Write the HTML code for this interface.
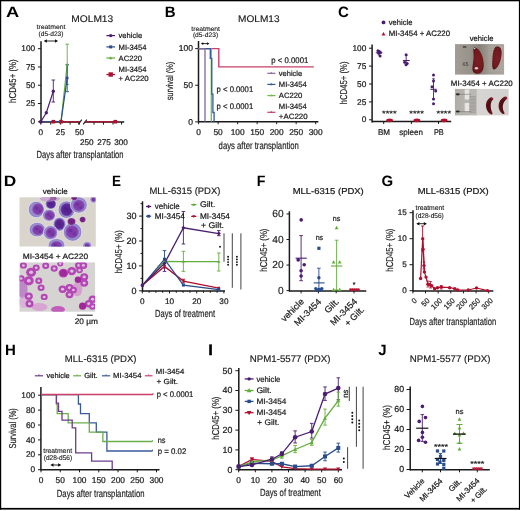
<!DOCTYPE html><html><head><meta charset="utf-8"><style>html,body{margin:0;padding:0;background:#fff;}svg{display:block;will-change:transform;text-rendering:geometricPrecision;}text{font-family:"Liberation Sans",sans-serif;}</style></head><body>
<svg width="520" height="511" viewBox="0 0 520 511">
<rect width="520" height="511" fill="#fff"/>
<text x="6.10" y="17.00" font-size="15" text-anchor="start" font-weight="bold" fill="#000" textLength="13.20" lengthAdjust="spacingAndGlyphs" >A</text>
<text x="71.30" y="22.30" font-size="9.6" text-anchor="start" fill="#1a1a1a" textLength="41.90" lengthAdjust="spacingAndGlyphs" stroke="#1a1a1a" stroke-width="0.16" >MOLM13</text>
<text x="36.50" y="28.80" font-size="6.6" text-anchor="start" fill="#1a1a1a" textLength="28.90" lengthAdjust="spacingAndGlyphs" stroke="#1a1a1a" stroke-width="0.12" >treatment</text>
<text x="38.50" y="35.60" font-size="6.6" text-anchor="start" fill="#1a1a1a" textLength="25.00" lengthAdjust="spacingAndGlyphs" stroke="#1a1a1a" stroke-width="0.12" >(d5-d23)</text>
<line x1="44.80" y1="41.00" x2="57.00" y2="41.00" stroke="#111" stroke-width="0.9" />
<polygon points="43.80,41.00 46.88,39.24 46.88,42.76" fill="#111"/>
<polygon points="58.00,41.00 54.92,39.24 54.92,42.76" fill="#111"/>
<line x1="41.00" y1="41.20" x2="41.00" y2="122.30" stroke="#1a1a1a" stroke-width="1.5" />
<line x1="37.90" y1="48.70" x2="41.00" y2="48.70" stroke="#1a1a1a" stroke-width="1.0" />
<text x="35.17" y="51.37" font-size="8.3" text-anchor="end" fill="#1a1a1a" stroke="#1a1a1a" stroke-width="0.22" >100</text>
<line x1="37.90" y1="66.97" x2="41.00" y2="66.97" stroke="#1a1a1a" stroke-width="1.0" />
<text x="35.17" y="69.65" font-size="8.3" text-anchor="end" fill="#1a1a1a" stroke="#1a1a1a" stroke-width="0.22" >75</text>
<line x1="37.90" y1="85.25" x2="41.00" y2="85.25" stroke="#1a1a1a" stroke-width="1.0" />
<text x="35.17" y="87.92" font-size="8.3" text-anchor="end" fill="#1a1a1a" stroke="#1a1a1a" stroke-width="0.22" >50</text>
<line x1="37.90" y1="103.53" x2="41.00" y2="103.53" stroke="#1a1a1a" stroke-width="1.0" />
<text x="35.17" y="106.20" font-size="8.3" text-anchor="end" fill="#1a1a1a" stroke="#1a1a1a" stroke-width="0.22" >25</text>
<line x1="37.90" y1="121.80" x2="41.00" y2="121.80" stroke="#1a1a1a" stroke-width="1.0" />
<text x="35.17" y="124.47" font-size="8.3" text-anchor="end" fill="#1a1a1a" stroke="#1a1a1a" stroke-width="0.22" >0</text>
<text x="16.30" y="81.10" font-size="10.0" text-anchor="middle" fill="#1a1a1a" textLength="43.60" lengthAdjust="spacingAndGlyphs" transform="rotate(-90 16.30 81.10)" stroke="#1a1a1a" stroke-width="0.16" >hCD45+ (%)</text>
<line x1="41.00" y1="122.00" x2="80.20" y2="122.00" stroke="#1a1a1a" stroke-width="1.5" />
<line x1="84.80" y1="122.00" x2="124.20" y2="122.00" stroke="#1a1a1a" stroke-width="1.5" />
<line x1="78.20" y1="124.40" x2="81.80" y2="119.70" stroke="#1a1a1a" stroke-width="1.1" />
<line x1="83.20" y1="124.40" x2="86.80" y2="119.70" stroke="#1a1a1a" stroke-width="1.1" />
<line x1="40.80" y1="122.10" x2="40.80" y2="124.60" stroke="#1a1a1a" stroke-width="1.0" />
<line x1="50.70" y1="122.10" x2="50.70" y2="124.60" stroke="#1a1a1a" stroke-width="1.0" />
<line x1="60.60" y1="122.10" x2="60.60" y2="124.60" stroke="#1a1a1a" stroke-width="1.0" />
<line x1="70.10" y1="122.10" x2="70.10" y2="124.60" stroke="#1a1a1a" stroke-width="1.0" />
<line x1="79.40" y1="122.10" x2="79.40" y2="124.60" stroke="#1a1a1a" stroke-width="1.0" />
<line x1="94.00" y1="122.10" x2="94.00" y2="124.60" stroke="#1a1a1a" stroke-width="1.0" />
<line x1="103.50" y1="122.10" x2="103.50" y2="124.60" stroke="#1a1a1a" stroke-width="1.0" />
<line x1="113.00" y1="122.10" x2="113.00" y2="124.60" stroke="#1a1a1a" stroke-width="1.0" />
<line x1="121.60" y1="122.10" x2="121.60" y2="124.60" stroke="#1a1a1a" stroke-width="1.0" />
<text x="40.80" y="135.00" font-size="8.2" text-anchor="middle" fill="#1a1a1a" stroke="#1a1a1a" stroke-width="0.22" >0</text>
<text x="60.40" y="135.00" font-size="8.2" text-anchor="middle" fill="#1a1a1a" stroke="#1a1a1a" stroke-width="0.22" >25</text>
<text x="79.60" y="135.00" font-size="8.2" text-anchor="middle" fill="#1a1a1a" stroke="#1a1a1a" stroke-width="0.22" >50</text>
<text x="86.80" y="145.00" font-size="8.2" text-anchor="middle" fill="#1a1a1a" stroke="#1a1a1a" stroke-width="0.22" >250</text>
<text x="104.00" y="145.00" font-size="8.2" text-anchor="middle" fill="#1a1a1a" stroke="#1a1a1a" stroke-width="0.22" >275</text>
<text x="121.00" y="145.00" font-size="8.2" text-anchor="middle" fill="#1a1a1a" stroke="#1a1a1a" stroke-width="0.22" >300</text>
<text x="80.10" y="158.00" font-size="10.3" text-anchor="middle" fill="#1a1a1a" textLength="87.00" lengthAdjust="spacingAndGlyphs" stroke="#1a1a1a" stroke-width="0.16" >Days after transplantation</text>
<line x1="41.00" y1="121.80" x2="80.00" y2="121.80" stroke="#b0102e" stroke-width="1.3" />
<line x1="85.00" y1="121.80" x2="116.00" y2="121.80" stroke="#b0102e" stroke-width="1.3" />
<polyline points="41.00,121.70 61.00,121.70 67.20,64.50" fill="none" stroke="#62ad3a" stroke-width="1.2" stroke-linejoin="miter" />
<line x1="67.20" y1="44.20" x2="67.20" y2="84.50" stroke="#62ad3a" stroke-width="0.9" />
<line x1="65.40" y1="44.20" x2="69.00" y2="44.20" stroke="#62ad3a" stroke-width="0.9" />
<line x1="65.40" y1="84.50" x2="69.00" y2="84.50" stroke="#62ad3a" stroke-width="0.9" />
<polyline points="41.00,121.70 61.00,121.70 67.20,78.00" fill="none" stroke="#284c8c" stroke-width="1.2" stroke-linejoin="miter" />
<line x1="67.20" y1="64.70" x2="67.20" y2="91.70" stroke="#284c8c" stroke-width="0.9" />
<line x1="65.40" y1="64.70" x2="69.00" y2="64.70" stroke="#284c8c" stroke-width="0.9" />
<line x1="65.40" y1="91.70" x2="69.00" y2="91.70" stroke="#284c8c" stroke-width="0.9" />
<polygon points="65.70,65.70 68.70,65.70 67.20,63.00" fill="#62ad3a"/>
<rect x="65.90" y="76.70" width="2.60" height="2.60" fill="#284c8c"/>
<polyline points="40.80,121.70 46.30,112.80 53.30,91.20" fill="none" stroke="#4b1c70" stroke-width="1.2" stroke-linejoin="miter" />
<line x1="53.30" y1="80.00" x2="53.30" y2="102.00" stroke="#4b1c70" stroke-width="0.9" />
<line x1="51.50" y1="80.00" x2="55.10" y2="80.00" stroke="#4b1c70" stroke-width="0.9" />
<line x1="51.50" y1="102.00" x2="55.10" y2="102.00" stroke="#4b1c70" stroke-width="0.9" />
<circle cx="40.80" cy="121.70" r="1.7" fill="#4b1c70" />
<circle cx="46.30" cy="112.80" r="1.7" fill="#4b1c70" />
<circle cx="53.30" cy="91.20" r="1.7" fill="#4b1c70" />
<rect x="51.50" y="119.90" width="3.60" height="3.60" fill="#b0102e"/>
<rect x="59.20" y="119.90" width="3.60" height="3.60" fill="#b0102e"/>
<rect x="113.50" y="119.90" width="3.60" height="3.60" fill="#b0102e"/>
<circle cx="40.80" cy="121.70" r="1.8" fill="#4b1c70" />
<line x1="106.40" y1="35.60" x2="115.00" y2="35.60" stroke="#4b1c70" stroke-width="1.2" />
<circle cx="110.70" cy="35.60" r="1.7" fill="#4b1c70" />
<text x="118.60" y="38.30" font-size="7.6" text-anchor="start" fill="#1a1a1a" textLength="23.50" lengthAdjust="spacingAndGlyphs" stroke="#1a1a1a" stroke-width="0.22" >vehicle</text>
<line x1="106.40" y1="46.90" x2="115.00" y2="46.90" stroke="#284c8c" stroke-width="1.2" />
<rect x="109.20" y="45.40" width="3.00" height="3.00" fill="#284c8c"/>
<text x="118.60" y="49.60" font-size="7.6" text-anchor="start" fill="#1a1a1a" textLength="28.00" lengthAdjust="spacingAndGlyphs" stroke="#1a1a1a" stroke-width="0.22" >MI-3454</text>
<line x1="106.40" y1="58.00" x2="115.00" y2="58.00" stroke="#62ad3a" stroke-width="1.2" />
<polygon points="109.00,59.36 112.40,59.36 110.70,56.30" fill="#62ad3a"/>
<text x="118.60" y="60.70" font-size="7.6" text-anchor="start" fill="#1a1a1a" textLength="23.50" lengthAdjust="spacingAndGlyphs" stroke="#1a1a1a" stroke-width="0.22" >AC220</text>
<line x1="106.40" y1="74.50" x2="115.00" y2="74.50" stroke="#b0102e" stroke-width="1.2" />
<rect x="108.50" y="72.30" width="4.40" height="4.40" fill="#b0102e"/>
<text x="118.60" y="72.00" font-size="7.6" text-anchor="start" fill="#1a1a1a" textLength="28.00" lengthAdjust="spacingAndGlyphs" stroke="#1a1a1a" stroke-width="0.22" >MI-3454</text>
<text x="118.60" y="81.40" font-size="7.6" text-anchor="start" fill="#1a1a1a" textLength="30.00" lengthAdjust="spacingAndGlyphs" stroke="#1a1a1a" stroke-width="0.22" >+ AC220</text>
<rect x="0" y="0" width="520" height="1.3" fill="#000"/>
<rect x="0" y="0" width="1.2" height="509.6" fill="#000"/>
<rect x="518.9" y="0" width="1.1" height="509.6" fill="#000"/>
<rect x="0" y="507.9" width="520" height="1.7" fill="#000"/>
<text x="164.70" y="16.90" font-size="15" text-anchor="start" font-weight="bold" fill="#000" >B</text>
<text x="238.10" y="22.30" font-size="9.6" text-anchor="start" fill="#1a1a1a" textLength="41.50" lengthAdjust="spacingAndGlyphs" stroke="#1a1a1a" stroke-width="0.16" >MOLM13</text>
<text x="191.30" y="30.50" font-size="6.6" text-anchor="start" fill="#1a1a1a" textLength="28.70" lengthAdjust="spacingAndGlyphs" stroke="#1a1a1a" stroke-width="0.12" >treatment</text>
<text x="192.90" y="37.00" font-size="6.6" text-anchor="start" fill="#1a1a1a" textLength="25.30" lengthAdjust="spacingAndGlyphs" stroke="#1a1a1a" stroke-width="0.12" >(d5-d23)</text>
<line x1="201.90" y1="43.60" x2="208.40" y2="43.60" stroke="#111" stroke-width="0.9" />
<polygon points="200.90,43.60 203.28,42.24 203.28,44.96" fill="#111"/>
<polygon points="209.40,43.60 207.02,42.24 207.02,44.96" fill="#111"/>
<line x1="198.50" y1="41.00" x2="198.50" y2="122.30" stroke="#1a1a1a" stroke-width="1.5" />
<line x1="195.20" y1="48.60" x2="198.50" y2="48.60" stroke="#1a1a1a" stroke-width="1.0" />
<text x="192.88" y="51.34" font-size="8.5" text-anchor="end" fill="#1a1a1a" stroke="#1a1a1a" stroke-width="0.22" >100</text>
<line x1="195.20" y1="85.25" x2="198.50" y2="85.25" stroke="#1a1a1a" stroke-width="1.0" />
<text x="192.88" y="87.99" font-size="8.5" text-anchor="end" fill="#1a1a1a" stroke="#1a1a1a" stroke-width="0.22" >50</text>
<line x1="195.20" y1="121.90" x2="198.50" y2="121.90" stroke="#1a1a1a" stroke-width="1.0" />
<text x="192.88" y="124.64" font-size="8.5" text-anchor="end" fill="#1a1a1a" stroke="#1a1a1a" stroke-width="0.22" >0</text>
<text x="173.40" y="81.00" font-size="9.7" text-anchor="middle" fill="#1a1a1a" textLength="38.70" lengthAdjust="spacingAndGlyphs" transform="rotate(-90 173.40 81.00)" stroke="#1a1a1a" stroke-width="0.16" >survival (%)</text>
<line x1="198.40" y1="121.70" x2="318.40" y2="121.70" stroke="#1a1a1a" stroke-width="1.5" />
<line x1="198.60" y1="121.70" x2="198.60" y2="124.20" stroke="#1a1a1a" stroke-width="1.0" />
<text x="198.60" y="135.20" font-size="8.4" text-anchor="middle" fill="#1a1a1a" stroke="#1a1a1a" stroke-width="0.22" >0</text>
<line x1="218.12" y1="121.70" x2="218.12" y2="124.20" stroke="#1a1a1a" stroke-width="1.0" />
<text x="218.12" y="135.20" font-size="8.4" text-anchor="middle" fill="#1a1a1a" stroke="#1a1a1a" stroke-width="0.22" >50</text>
<line x1="237.63" y1="121.70" x2="237.63" y2="124.20" stroke="#1a1a1a" stroke-width="1.0" />
<text x="237.63" y="135.20" font-size="8.4" text-anchor="middle" fill="#1a1a1a" stroke="#1a1a1a" stroke-width="0.22" >100</text>
<line x1="257.14" y1="121.70" x2="257.14" y2="124.20" stroke="#1a1a1a" stroke-width="1.0" />
<text x="257.14" y="135.20" font-size="8.4" text-anchor="middle" fill="#1a1a1a" stroke="#1a1a1a" stroke-width="0.22" >150</text>
<line x1="276.66" y1="121.70" x2="276.66" y2="124.20" stroke="#1a1a1a" stroke-width="1.0" />
<text x="276.66" y="135.20" font-size="8.4" text-anchor="middle" fill="#1a1a1a" stroke="#1a1a1a" stroke-width="0.22" >200</text>
<line x1="296.17" y1="121.70" x2="296.17" y2="124.20" stroke="#1a1a1a" stroke-width="1.0" />
<text x="296.17" y="135.20" font-size="8.4" text-anchor="middle" fill="#1a1a1a" stroke="#1a1a1a" stroke-width="0.22" >250</text>
<line x1="315.69" y1="121.70" x2="315.69" y2="124.20" stroke="#1a1a1a" stroke-width="1.0" />
<text x="315.69" y="135.20" font-size="8.4" text-anchor="middle" fill="#1a1a1a" stroke="#1a1a1a" stroke-width="0.22" >300</text>
<text x="218.60" y="148.60" font-size="10.3" text-anchor="start" fill="#1a1a1a" textLength="80.30" lengthAdjust="spacingAndGlyphs" stroke="#1a1a1a" stroke-width="0.16" >days after transplantion</text>
<polyline points="198.40,48.60 218.80,48.60 218.80,66.90 313.20,66.90" fill="none" stroke="#cc3f68" stroke-width="1.4" stroke-linejoin="miter" />
<polyline points="198.40,48.60 211.30,48.60 211.30,121.70" fill="none" stroke="#6cc04a" stroke-width="1.3" stroke-linejoin="miter" />
<polyline points="198.40,48.60 210.30,48.60 210.30,58.30 211.80,58.30 211.80,94.20 212.90,94.20 212.90,112.50 214.10,112.50 214.10,121.70" fill="none" stroke="#2f5aa0" stroke-width="1.3" stroke-linejoin="miter" />
<polyline points="198.40,48.60 205.00,48.60 205.00,121.70" fill="none" stroke="#87679c" stroke-width="1.3" stroke-linejoin="miter" />
<line x1="313.20" y1="65.60" x2="313.20" y2="68.20" stroke="#6cc04a" stroke-width="0.8" />
<text x="216.60" y="91.90" font-size="8.2" text-anchor="start" fill="#1a1a1a" textLength="36.60" lengthAdjust="spacingAndGlyphs" stroke="#1a1a1a" stroke-width="0.22" >p &lt; 0.0001</text>
<text x="216.60" y="109.10" font-size="8.2" text-anchor="start" fill="#1a1a1a" textLength="36.60" lengthAdjust="spacingAndGlyphs" stroke="#1a1a1a" stroke-width="0.22" >p &lt; 0.0001</text>
<text x="271.30" y="62.50" font-size="8.2" text-anchor="start" fill="#1a1a1a" textLength="37.00" lengthAdjust="spacingAndGlyphs" stroke="#1a1a1a" stroke-width="0.22" >p &lt; 0.0001</text>
<line x1="267.30" y1="73.30" x2="275.40" y2="73.30" stroke="#87679c" stroke-width="1.2" />
<polygon points="270.00,74.04 272.60,74.04 271.30,71.70" fill="#87679c"/>
<text x="278.80" y="76.00" font-size="7.6" text-anchor="start" fill="#1a1a1a" textLength="23.40" lengthAdjust="spacingAndGlyphs" stroke="#1a1a1a" stroke-width="0.22" >vehicle</text>
<line x1="267.30" y1="84.40" x2="275.40" y2="84.40" stroke="#2f5aa0" stroke-width="1.2" />
<polygon points="270.00,85.14 272.60,85.14 271.30,82.80" fill="#2f5aa0"/>
<text x="278.80" y="87.10" font-size="7.6" text-anchor="start" fill="#1a1a1a" textLength="28.00" lengthAdjust="spacingAndGlyphs" stroke="#1a1a1a" stroke-width="0.22" >MI-3454</text>
<line x1="267.30" y1="95.60" x2="275.40" y2="95.60" stroke="#6cc04a" stroke-width="1.2" />
<polygon points="270.00,96.34 272.60,96.34 271.30,94.00" fill="#6cc04a"/>
<text x="278.80" y="98.30" font-size="7.6" text-anchor="start" fill="#1a1a1a" textLength="23.50" lengthAdjust="spacingAndGlyphs" stroke="#1a1a1a" stroke-width="0.22" >AC220</text>
<line x1="267.30" y1="112.30" x2="275.40" y2="112.30" stroke="#cc3f68" stroke-width="1.2" />
<polygon points="270.00,113.04 272.60,113.04 271.30,110.70" fill="#cc3f68"/>
<text x="278.80" y="109.40" font-size="7.6" text-anchor="start" fill="#1a1a1a" textLength="28.00" lengthAdjust="spacingAndGlyphs" stroke="#1a1a1a" stroke-width="0.22" >MI-3454</text>
<text x="278.80" y="118.50" font-size="7.6" text-anchor="start" fill="#1a1a1a" textLength="28.80" lengthAdjust="spacingAndGlyphs" stroke="#1a1a1a" stroke-width="0.22" >+AC220</text>
<text x="338.10" y="17.10" font-size="15" text-anchor="start" font-weight="bold" fill="#000" >C</text>
<circle cx="383.50" cy="22.40" r="1.9" fill="#4b1c70" />
<text x="388.80" y="24.80" font-size="7.8" text-anchor="start" fill="#1a1a1a" textLength="23.60" lengthAdjust="spacingAndGlyphs" stroke="#1a1a1a" stroke-width="0.22" >vehicle</text>
<polygon points="381.50,35.50 385.50,35.50 383.50,31.90" fill="#b0102e"/>
<text x="388.80" y="36.30" font-size="7.8" text-anchor="start" fill="#1a1a1a" textLength="61.20" lengthAdjust="spacingAndGlyphs" stroke="#1a1a1a" stroke-width="0.22" >MI-3454 + AC220</text>
<line x1="372.10" y1="44.60" x2="372.10" y2="122.40" stroke="#1a1a1a" stroke-width="1.5" />
<line x1="369.00" y1="48.20" x2="372.10" y2="48.20" stroke="#1a1a1a" stroke-width="1.0" />
<text x="366.27" y="50.87" font-size="8.3" text-anchor="end" fill="#1a1a1a" stroke="#1a1a1a" stroke-width="0.22" >100</text>
<line x1="369.00" y1="66.10" x2="372.10" y2="66.10" stroke="#1a1a1a" stroke-width="1.0" />
<text x="366.27" y="68.77" font-size="8.3" text-anchor="end" fill="#1a1a1a" stroke="#1a1a1a" stroke-width="0.22" >75</text>
<line x1="369.00" y1="84.00" x2="372.10" y2="84.00" stroke="#1a1a1a" stroke-width="1.0" />
<text x="366.27" y="86.67" font-size="8.3" text-anchor="end" fill="#1a1a1a" stroke="#1a1a1a" stroke-width="0.22" >50</text>
<line x1="369.00" y1="101.90" x2="372.10" y2="101.90" stroke="#1a1a1a" stroke-width="1.0" />
<text x="366.27" y="104.57" font-size="8.3" text-anchor="end" fill="#1a1a1a" stroke="#1a1a1a" stroke-width="0.22" >25</text>
<line x1="369.00" y1="119.80" x2="372.10" y2="119.80" stroke="#1a1a1a" stroke-width="1.0" />
<text x="366.27" y="122.47" font-size="8.3" text-anchor="end" fill="#1a1a1a" stroke="#1a1a1a" stroke-width="0.22" >0</text>
<text x="347.00" y="82.90" font-size="10.0" text-anchor="middle" fill="#1a1a1a" textLength="42.80" lengthAdjust="spacingAndGlyphs" transform="rotate(-90 347.00 82.90)" stroke="#1a1a1a" stroke-width="0.16" >hCD45+ (%)</text>
<line x1="371.80" y1="121.60" x2="451.20" y2="121.60" stroke="#1a1a1a" stroke-width="1.5" />
<line x1="383.70" y1="121.60" x2="383.70" y2="124.00" stroke="#1a1a1a" stroke-width="1.0" />
<line x1="411.40" y1="121.60" x2="411.40" y2="124.00" stroke="#1a1a1a" stroke-width="1.0" />
<line x1="438.50" y1="121.60" x2="438.50" y2="124.00" stroke="#1a1a1a" stroke-width="1.0" />
<text x="384.00" y="134.80" font-size="8.2" text-anchor="middle" fill="#1a1a1a" textLength="12.10" lengthAdjust="spacingAndGlyphs" stroke="#1a1a1a" stroke-width="0.22" >BM</text>
<text x="411.20" y="134.80" font-size="8.2" text-anchor="middle" fill="#1a1a1a" textLength="23.70" lengthAdjust="spacingAndGlyphs" stroke="#1a1a1a" stroke-width="0.22" >spleen</text>
<text x="438.80" y="134.80" font-size="8.2" text-anchor="middle" fill="#1a1a1a" textLength="9.80" lengthAdjust="spacingAndGlyphs" stroke="#1a1a1a" stroke-width="0.22" >PB</text>
<ellipse cx="389.60" cy="120.3" rx="3.4" ry="1.9" fill="#b0102e"/>
<text x="389.30" y="116.10" font-size="7.5" text-anchor="middle" fill="#1a1a1a" textLength="14.60" lengthAdjust="spacingAndGlyphs" stroke="#1a1a1a" stroke-width="0.22" >****</text>
<ellipse cx="416.90" cy="120.3" rx="3.4" ry="1.9" fill="#b0102e"/>
<text x="416.60" y="116.10" font-size="7.5" text-anchor="middle" fill="#1a1a1a" textLength="14.60" lengthAdjust="spacingAndGlyphs" stroke="#1a1a1a" stroke-width="0.22" >****</text>
<ellipse cx="444.10" cy="120.3" rx="3.4" ry="1.9" fill="#b0102e"/>
<text x="443.80" y="116.10" font-size="7.5" text-anchor="middle" fill="#1a1a1a" textLength="14.60" lengthAdjust="spacingAndGlyphs" stroke="#1a1a1a" stroke-width="0.22" >****</text>
<circle cx="377.90" cy="50.70" r="1.5" fill="#4b1c70" />
<circle cx="379.40" cy="51.80" r="1.5" fill="#4b1c70" />
<circle cx="380.10" cy="56.00" r="1.5" fill="#4b1c70" />
<circle cx="378.50" cy="53.00" r="1.5" fill="#4b1c70" />
<circle cx="380.50" cy="52.50" r="1.5" fill="#4b1c70" />
<line x1="375.80" y1="52.80" x2="382.30" y2="52.80" stroke="#4b1c70" stroke-width="1.0" />
<line x1="379.00" y1="50.50" x2="379.00" y2="55.00" stroke="#4b1c70" stroke-width="0.9" />
<line x1="377.80" y1="50.50" x2="380.20" y2="50.50" stroke="#4b1c70" stroke-width="0.9" />
<line x1="377.80" y1="55.00" x2="380.20" y2="55.00" stroke="#4b1c70" stroke-width="0.9" />
<circle cx="406.10" cy="54.70" r="1.5" fill="#4b1c70" />
<circle cx="404.60" cy="62.20" r="1.5" fill="#4b1c70" />
<circle cx="407.20" cy="63.60" r="1.5" fill="#4b1c70" />
<circle cx="406.00" cy="64.80" r="1.5" fill="#4b1c70" />
<line x1="402.90" y1="60.50" x2="409.70" y2="60.50" stroke="#4b1c70" stroke-width="1.0" />
<line x1="406.20" y1="55.50" x2="406.20" y2="64.50" stroke="#4b1c70" stroke-width="0.9" />
<line x1="405.00" y1="55.50" x2="407.40" y2="55.50" stroke="#4b1c70" stroke-width="0.9" />
<line x1="405.00" y1="64.50" x2="407.40" y2="64.50" stroke="#4b1c70" stroke-width="0.9" />
<circle cx="433.50" cy="74.90" r="1.5" fill="#4b1c70" />
<circle cx="433.50" cy="81.00" r="1.5" fill="#4b1c70" />
<circle cx="432.00" cy="86.70" r="1.5" fill="#4b1c70" />
<circle cx="435.70" cy="91.10" r="1.5" fill="#4b1c70" />
<circle cx="433.50" cy="99.00" r="1.5" fill="#4b1c70" />
<circle cx="433.50" cy="103.80" r="1.5" fill="#4b1c70" />
<line x1="430.30" y1="89.30" x2="436.70" y2="89.30" stroke="#4b1c70" stroke-width="1.0" />
<line x1="433.50" y1="78.80" x2="433.50" y2="99.50" stroke="#4b1c70" stroke-width="0.9" />
<line x1="432.20" y1="78.80" x2="434.80" y2="78.80" stroke="#4b1c70" stroke-width="0.9" />
<line x1="432.20" y1="99.50" x2="434.80" y2="99.50" stroke="#4b1c70" stroke-width="0.9" />
<text x="481.70" y="41.00" font-size="7.8" text-anchor="middle" fill="#1a1a1a" textLength="23.80" lengthAdjust="spacingAndGlyphs" stroke="#1a1a1a" stroke-width="0.22" >vehicle</text>
<text x="481.80" y="85.90" font-size="7.8" text-anchor="middle" fill="#1a1a1a" textLength="62.00" lengthAdjust="spacingAndGlyphs" stroke="#1a1a1a" stroke-width="0.22" >MI-3454 + AC220</text>
<defs><linearGradient id="ph1" x1="0" y1="0" x2="1" y2="0"><stop offset="0" stop-color="#a39e95"/><stop offset="0.3" stop-color="#98938a"/><stop offset="0.5" stop-color="#878179"/><stop offset="0.72" stop-color="#a29d95"/><stop offset="1" stop-color="#aba69d"/></linearGradient><linearGradient id="ph2" x1="0" y1="0" x2="1" y2="0"><stop offset="0" stop-color="#b0ada8"/><stop offset="0.39" stop-color="#bcbab5"/><stop offset="0.4" stop-color="#d6d5d2"/><stop offset="1" stop-color="#d2d1ce"/></linearGradient><radialGradient id="spl" cx="0.5" cy="0.5" r="0.6"><stop offset="0" stop-color="#7e1e24"/><stop offset="0.7" stop-color="#6e1a1e"/><stop offset="1" stop-color="#541216"/></radialGradient><radialGradient id="spl2" cx="0.5" cy="0.5" r="0.6"><stop offset="0" stop-color="#4a0c12"/><stop offset="0.6" stop-color="#5a0f16"/><stop offset="1" stop-color="#8a2028"/></radialGradient></defs>
<rect x="455.0" y="44.1" width="49.1" height="30.5" fill="url(#ph1)"/>
<line x1="487.50" y1="47.00" x2="503.50" y2="47.00" stroke="#b4afa6" stroke-width="0.5" />
<line x1="487.50" y1="49.60" x2="503.50" y2="49.60" stroke="#b4afa6" stroke-width="0.5" />
<line x1="487.50" y1="52.20" x2="503.50" y2="52.20" stroke="#b4afa6" stroke-width="0.5" />
<line x1="487.50" y1="54.80" x2="503.50" y2="54.80" stroke="#b4afa6" stroke-width="0.5" />
<line x1="487.50" y1="57.40" x2="503.50" y2="57.40" stroke="#b4afa6" stroke-width="0.5" />
<line x1="487.50" y1="60.00" x2="503.50" y2="60.00" stroke="#b4afa6" stroke-width="0.5" />
<line x1="487.50" y1="62.60" x2="503.50" y2="62.60" stroke="#b4afa6" stroke-width="0.5" />
<line x1="487.50" y1="65.20" x2="503.50" y2="65.20" stroke="#b4afa6" stroke-width="0.5" />
<line x1="487.50" y1="67.80" x2="503.50" y2="67.80" stroke="#b4afa6" stroke-width="0.5" />
<line x1="487.50" y1="70.40" x2="503.50" y2="70.40" stroke="#b4afa6" stroke-width="0.5" />
<text x="462.4" y="66.2" font-size="5.5" fill="#333" stroke="none">65</text>
<rect x="462.8" y="46.3" width="3.6" height="1.3" fill="#333"/>
<path d="M474.2,47.6 C476.5,47.2 479.5,49.5 481.5,54 C483.5,58.5 484.2,64 483.5,68 C482.8,71.8 480,74 477,73.8 C474,73.6 472.2,71.5 472.4,68 C472.6,64 473.8,60 473.6,55 C473.5,51.5 472.8,48.5 474.2,47.6 Z" fill="url(#spl)"/>
<path d="M497.5,46.6 C500,46.6 501.8,49 501.6,53.5 C501.4,58 500,63.5 497.5,67 C496,69 494.5,69.8 493.4,69.2 C492.2,68.5 492.1,65 492.3,61 C492.6,56 492.8,51 494.5,48.2 C495.3,47 496.4,46.6 497.5,46.6 Z" fill="url(#spl)"/>
<ellipse cx="476.4" cy="68.3" rx="1.7" ry="1.2" fill="#e6c8cc"/>
<ellipse cx="474.6" cy="48.6" rx="0.9" ry="0.7" fill="#e8e0d8"/>
<rect x="454.9" y="88.9" width="53.8" height="26.5" fill="url(#ph2)"/>
<rect x="464.7" y="89.5" width="4.6" height="10" fill="#e6e5e3"/>
<rect x="464.7" y="103" width="4.6" height="8.5" fill="#e6e5e3"/>
<line x1="469.30" y1="96.50" x2="476.00" y2="96.50" stroke="#8e8c88" stroke-width="0.55" />
<line x1="469.30" y1="97.95" x2="476.00" y2="97.95" stroke="#8e8c88" stroke-width="0.55" />
<line x1="469.30" y1="99.40" x2="476.00" y2="99.40" stroke="#8e8c88" stroke-width="0.55" />
<line x1="469.30" y1="100.85" x2="476.00" y2="100.85" stroke="#8e8c88" stroke-width="0.55" />
<line x1="469.30" y1="102.30" x2="476.00" y2="102.30" stroke="#8e8c88" stroke-width="0.55" />
<line x1="469.30" y1="103.75" x2="476.00" y2="103.75" stroke="#8e8c88" stroke-width="0.55" />
<line x1="469.30" y1="105.20" x2="476.00" y2="105.20" stroke="#8e8c88" stroke-width="0.55" />
<line x1="469.30" y1="106.65" x2="476.00" y2="106.65" stroke="#8e8c88" stroke-width="0.55" />
<line x1="469.30" y1="108.10" x2="476.00" y2="108.10" stroke="#8e8c88" stroke-width="0.55" />
<line x1="469.30" y1="109.55" x2="476.00" y2="109.55" stroke="#8e8c88" stroke-width="0.55" />
<line x1="469.30" y1="111.00" x2="476.00" y2="111.00" stroke="#8e8c88" stroke-width="0.55" />
<line x1="469.30" y1="112.45" x2="476.00" y2="112.45" stroke="#8e8c88" stroke-width="0.55" />
<line x1="476.20" y1="89.00" x2="476.20" y2="115.40" stroke="#a8a6a2" stroke-width="0.6" />
<ellipse cx="457.8" cy="94.3" rx="2.1" ry="1.1" fill="#2a2a2a"/>
<ellipse cx="457.8" cy="111.6" rx="2.1" ry="1.0" fill="#2a2a2a"/>
<line x1="459.50" y1="94.30" x2="471.00" y2="94.30" stroke="#666" stroke-width="0.5" />
<line x1="459.50" y1="111.60" x2="471.00" y2="111.60" stroke="#666" stroke-width="0.5" />
<path d="M490.4,97.4 C488,98.6 486,101.5 485.9,105 C485.8,109 488,112.6 490.6,114.3 C491.8,115 492.9,114.2 492.5,113 C491.3,110.5 490.6,108 490.7,105.2 C490.8,102.5 491.8,100.6 493.2,99.4 C494,98.4 492.2,96.6 490.4,97.4 Z" fill="url(#spl2)"/>
<path d="M505.2,96.6 C501.8,97.8 499,101 498.6,105.2 C498.3,109 500.2,112.5 502.8,113.9 C504,114.5 505,113.6 504.3,112.4 C503,110.3 502.5,107.8 502.9,105.2 C503.4,102.2 505.2,100.2 507,99 C508,98 506.6,96.1 505.2,96.6 Z" fill="url(#spl2)"/>
<text x="3.70" y="186.30" font-size="15" text-anchor="start" font-weight="bold" fill="#000" textLength="12.50" lengthAdjust="spacingAndGlyphs" >D</text>
<text x="55.20" y="193.60" font-size="7.8" text-anchor="middle" fill="#1a1a1a" textLength="25.00" lengthAdjust="spacingAndGlyphs" stroke="#1a1a1a" stroke-width="0.22" >vehicle</text>
<text x="55.40" y="258.60" font-size="7.8" text-anchor="middle" fill="#1a1a1a" textLength="65.30" lengthAdjust="spacingAndGlyphs" stroke="#1a1a1a" stroke-width="0.22" >MI-3454 + AC220</text>
<defs><radialGradient id="cellA" cx="0.5" cy="0.5" r="0.5"><stop offset="0" stop-color="#8544ad"/><stop offset="0.45" stop-color="#9052b6"/><stop offset="0.75" stop-color="#9a7cc6"/><stop offset="1" stop-color="#b0a6d8"/></radialGradient><radialGradient id="cellB" cx="0.5" cy="0.5" r="0.5"><stop offset="0" stop-color="#5c2c94"/><stop offset="0.55" stop-color="#6c3ca6"/><stop offset="0.85" stop-color="#8c7cc8"/><stop offset="1" stop-color="#aca2d8"/></radialGradient><radialGradient id="cyto" cx="0.5" cy="0.5" r="0.5"><stop offset="0" stop-color="#8c7cc8"/><stop offset="0.75" stop-color="#9a90d0"/><stop offset="0.93" stop-color="#8a7cc6"/><stop offset="1" stop-color="#b4acdc"/></radialGradient><radialGradient id="nucA" cx="0.5" cy="0.5" r="0.5"><stop offset="0" stop-color="#7c36a8"/><stop offset="0.8" stop-color="#8442ae"/><stop offset="1" stop-color="#8e66bc"/></radialGradient><radialGradient id="nucB" cx="0.5" cy="0.5" r="0.5"><stop offset="0" stop-color="#521e8c"/><stop offset="0.8" stop-color="#5e2a98"/><stop offset="1" stop-color="#7658ae"/></radialGradient><radialGradient id="cellC" cx="0.5" cy="0.5" r="0.5"><stop offset="0" stop-color="#6a1c7a"/><stop offset="0.8" stop-color="#7a2a8a"/><stop offset="1" stop-color="#9a5aa6"/></radialGradient><radialGradient id="pinkblob" cx="0.5" cy="0.5" r="0.5"><stop offset="0" stop-color="#c868c0"/><stop offset="1" stop-color="#d4b0d2" stop-opacity="0"/></radialGradient><clipPath id="clipD1"><rect x="19.5" y="197.3" width="76.3" height="49.2"/></clipPath><clipPath id="clipD2"><rect x="19.5" y="262.4" width="75.6" height="49.3"/></clipPath></defs>
<rect x="19.5" y="197.3" width="76.3" height="49.2" fill="#d9d5cd"/>
<g clip-path="url(#clipD1)">
<ellipse cx="50" cy="198.8" rx="10" ry="2.6" fill="#b898cc" opacity="0.55"/>
<ellipse cx="36.3" cy="209.5" rx="7.95" ry="8.162" fill="url(#cyto)" stroke="#e9e6ee" stroke-width="0.6"/>
<ellipse cx="37.90" cy="209.20" rx="5.72" ry="5.88" fill="url(#nucA)"/>
<ellipse cx="36.31" cy="207.98" rx="1.75" ry="1.47" fill="#4e1e80" opacity="0.35"/>
<ellipse cx="39.89" cy="211.24" rx="1.43" ry="1.63" fill="#4e1e80" opacity="0.3"/>
<ellipse cx="49.0" cy="215.2" rx="6.36" ry="5.936" fill="url(#cyto)" stroke="#e9e6ee" stroke-width="0.6"/>
<ellipse cx="49.50" cy="215.50" rx="5.09" ry="4.75" fill="url(#nucA)"/>
<ellipse cx="48.23" cy="214.61" rx="1.40" ry="1.07" fill="#4e1e80" opacity="0.35"/>
<ellipse cx="51.09" cy="216.98" rx="1.14" ry="1.19" fill="#4e1e80" opacity="0.3"/>
<ellipse cx="50.7" cy="203.8" rx="5.5120000000000005" ry="5.300000000000001" fill="url(#cyto)" stroke="#e9e6ee" stroke-width="0.6"/>
<ellipse cx="51.00" cy="204.00" rx="4.69" ry="4.51" fill="url(#nucB)"/>
<ellipse cx="49.90" cy="203.21" rx="1.21" ry="0.95" fill="#4e1e80" opacity="0.35"/>
<ellipse cx="52.38" cy="205.32" rx="0.99" ry="1.06" fill="#4e1e80" opacity="0.3"/>
<ellipse cx="66.5" cy="209.6" rx="8.374" ry="8.692" fill="url(#cyto)" stroke="#e9e6ee" stroke-width="0.6"/>
<ellipse cx="66.80" cy="209.60" rx="6.28" ry="6.52" fill="url(#nucB)"/>
<ellipse cx="65.13" cy="208.30" rx="1.84" ry="1.56" fill="#4e1e80" opacity="0.35"/>
<ellipse cx="68.89" cy="211.77" rx="1.51" ry="1.74" fill="#4e1e80" opacity="0.3"/>
<ellipse cx="78.8" cy="205.0" rx="8.374" ry="8.056" fill="url(#cyto)" stroke="#e9e6ee" stroke-width="0.6"/>
<ellipse cx="78.80" cy="205.50" rx="5.86" ry="5.64" fill="url(#nucA)"/>
<ellipse cx="77.13" cy="204.29" rx="1.84" ry="1.45" fill="#4e1e80" opacity="0.35"/>
<ellipse cx="80.89" cy="207.51" rx="1.51" ry="1.61" fill="#4e1e80" opacity="0.3"/>
<ellipse cx="59.5" cy="224.2" rx="6.36" ry="6.9959999999999996" fill="url(#cyto)" stroke="#e9e6ee" stroke-width="0.6"/>
<ellipse cx="59.50" cy="224.20" rx="5.09" ry="5.60" fill="url(#nucB)"/>
<ellipse cx="58.23" cy="223.15" rx="1.40" ry="1.26" fill="#4e1e80" opacity="0.35"/>
<ellipse cx="61.09" cy="225.95" rx="1.14" ry="1.40" fill="#4e1e80" opacity="0.3"/>
<ellipse cx="37.2" cy="229.6" rx="8.056" ry="7.208" fill="url(#cyto)" stroke="#e9e6ee" stroke-width="0.6"/>
<ellipse cx="38.00" cy="229.90" rx="5.80" ry="5.19" fill="url(#nucA)"/>
<ellipse cx="36.39" cy="228.82" rx="1.77" ry="1.30" fill="#4e1e80" opacity="0.35"/>
<ellipse cx="40.01" cy="231.70" rx="1.45" ry="1.44" fill="#4e1e80" opacity="0.3"/>
<ellipse cx="50.6" cy="232.7" rx="7.102" ry="7.102" fill="url(#cyto)" stroke="#e9e6ee" stroke-width="0.6"/>
<ellipse cx="50.90" cy="232.70" rx="5.33" ry="5.33" fill="url(#nucA)"/>
<ellipse cx="49.48" cy="231.63" rx="1.56" ry="1.28" fill="#4e1e80" opacity="0.35"/>
<ellipse cx="52.68" cy="234.48" rx="1.28" ry="1.42" fill="#4e1e80" opacity="0.3"/>
<ellipse cx="72.6" cy="231.9" rx="9.222" ry="9.222" fill="url(#cyto)" stroke="#e9e6ee" stroke-width="0.6"/>
<ellipse cx="72.10" cy="231.90" rx="6.64" ry="6.64" fill="url(#nucA)"/>
<ellipse cx="70.26" cy="230.52" rx="2.03" ry="1.66" fill="#4e1e80" opacity="0.35"/>
<ellipse cx="74.41" cy="234.21" rx="1.66" ry="1.84" fill="#4e1e80" opacity="0.3"/>
<ellipse cx="56.5" cy="245.2" rx="8.268" ry="6.572000000000001" fill="url(#cyto)" stroke="#e9e6ee" stroke-width="0.6"/>
<ellipse cx="56.50" cy="245.70" rx="5.79" ry="4.60" fill="url(#nucA)"/>
<ellipse cx="54.85" cy="244.71" rx="1.82" ry="1.18" fill="#4e1e80" opacity="0.35"/>
<ellipse cx="58.57" cy="247.34" rx="1.49" ry="1.31" fill="#4e1e80" opacity="0.3"/>
<ellipse cx="87.2" cy="245.5" rx="4.452000000000001" ry="3.9220000000000006" fill="url(#cyto)" stroke="#e9e6ee" stroke-width="0.6"/>
<ellipse cx="87.20" cy="245.50" rx="2.67" ry="2.35" fill="url(#nucA)"/>
<ellipse cx="86.31" cy="244.91" rx="0.98" ry="0.71" fill="#4e1e80" opacity="0.35"/>
<ellipse cx="88.31" cy="246.48" rx="0.80" ry="0.78" fill="#4e1e80" opacity="0.3"/>
<ellipse cx="93.4" cy="199.6" rx="3.3920000000000003" ry="3.3920000000000003" fill="url(#cyto)" stroke="#e9e6ee" stroke-width="0.6"/>
<ellipse cx="93.40" cy="199.60" rx="2.04" ry="2.04" fill="url(#nucA)"/>
<ellipse cx="92.72" cy="199.09" rx="0.75" ry="0.61" fill="#4e1e80" opacity="0.35"/>
<ellipse cx="94.25" cy="200.45" rx="0.61" ry="0.68" fill="#4e1e80" opacity="0.3"/>
<ellipse cx="71.5" cy="221.5" rx="4" ry="3.6" fill="url(#cellC)"/>
<ellipse cx="82.6" cy="219.6" rx="3" ry="2.8" fill="url(#cellC)"/>
<ellipse cx="74.2" cy="198" rx="3" ry="2" fill="url(#cellC)"/>
<ellipse cx="53" cy="198.5" rx="3.5" ry="2" fill="url(#cellC)"/>
<ellipse cx="48" cy="199" rx="8" ry="3" fill="#c8a0d0" opacity="0.5"/>
</g>
<rect x="19.5" y="262.4" width="75.6" height="49.3" fill="#d6d3d3"/>
<g clip-path="url(#clipD2)">
<ellipse cx="58" cy="309.5" rx="7" ry="3.5" fill="#c050b8" opacity="0.9"/>
<ellipse cx="22.6" cy="289.2" rx="5" ry="9" fill="#b068c0" opacity="0.7"/>
<ellipse cx="77.2" cy="289.2" rx="5" ry="7" fill="#d080c8" opacity="0.6"/>
<ellipse cx="39.5" cy="307" rx="8" ry="4" fill="#d890d0" opacity="0.7"/>
<ellipse cx="24" cy="302" rx="5" ry="6" fill="#d8a0d8" opacity="0.6"/>
<ellipse cx="23.4" cy="265.4" rx="3.50" ry="3.22" fill="#b446b6"/>
<ellipse cx="23.4" cy="265.4" rx="1.40" ry="1.26" fill="#dcbedf"/>
<ellipse cx="36.2" cy="267.7" rx="3.50" ry="3.22" fill="#b446b6"/>
<ellipse cx="36.2" cy="267.7" rx="1.40" ry="1.26" fill="#dcbedf"/>
<ellipse cx="31.1" cy="272.3" rx="5.00" ry="4.60" fill="#b446b6"/>
<ellipse cx="31.1" cy="272.3" rx="2.00" ry="1.80" fill="#dcbedf"/>
<ellipse cx="45.7" cy="265.8" rx="3.50" ry="3.22" fill="#b446b6"/>
<ellipse cx="45.7" cy="265.8" rx="1.40" ry="1.26" fill="#dcbedf"/>
<ellipse cx="54.2" cy="268.5" rx="3.50" ry="3.22" fill="#b446b6"/>
<ellipse cx="54.2" cy="268.5" rx="1.40" ry="1.26" fill="#dcbedf"/>
<ellipse cx="60.3" cy="263.8" rx="3.00" ry="2.76" fill="#b446b6"/>
<ellipse cx="60.3" cy="263.8" rx="1.20" ry="1.08" fill="#dcbedf"/>
<ellipse cx="63.4" cy="273.1" rx="4.80" ry="4.42" fill="#b446b6"/>
<ellipse cx="63.4" cy="273.1" rx="1.92" ry="1.73" fill="#dcbedf"/>
<ellipse cx="71.8" cy="271.1" rx="4.50" ry="4.14" fill="#b446b6"/>
<ellipse cx="71.8" cy="271.1" rx="1.80" ry="1.62" fill="#dcbedf"/>
<ellipse cx="78.8" cy="265.4" rx="3.80" ry="3.50" fill="#b446b6"/>
<ellipse cx="78.8" cy="265.4" rx="1.52" ry="1.37" fill="#dcbedf"/>
<ellipse cx="83.4" cy="265.4" rx="3.80" ry="3.50" fill="#b446b6"/>
<ellipse cx="83.4" cy="265.4" rx="1.52" ry="1.37" fill="#dcbedf"/>
<ellipse cx="79.5" cy="270.2" rx="3.30" ry="3.04" fill="#b446b6"/>
<ellipse cx="79.5" cy="270.2" rx="1.32" ry="1.19" fill="#dcbedf"/>
<ellipse cx="84.2" cy="276.9" rx="4.00" ry="3.68" fill="#b446b6"/>
<ellipse cx="84.2" cy="276.9" rx="1.60" ry="1.44" fill="#dcbedf"/>
<ellipse cx="84.2" cy="283.1" rx="4.00" ry="3.68" fill="#b446b6"/>
<ellipse cx="84.2" cy="283.1" rx="1.60" ry="1.44" fill="#dcbedf"/>
<ellipse cx="28.8" cy="280.8" rx="5.00" ry="4.60" fill="#b446b6"/>
<ellipse cx="28.8" cy="280.8" rx="2.00" ry="1.80" fill="#dcbedf"/>
<ellipse cx="21.1" cy="278.5" rx="3.50" ry="3.22" fill="#b446b6"/>
<ellipse cx="21.1" cy="278.5" rx="1.40" ry="1.26" fill="#dcbedf"/>
<ellipse cx="38.8" cy="280.8" rx="3.50" ry="3.22" fill="#b446b6"/>
<ellipse cx="38.8" cy="280.8" rx="1.40" ry="1.26" fill="#dcbedf"/>
<ellipse cx="41.1" cy="287.7" rx="3.50" ry="3.22" fill="#b446b6"/>
<ellipse cx="41.1" cy="287.7" rx="1.40" ry="1.26" fill="#dcbedf"/>
<ellipse cx="62.6" cy="289.2" rx="4.00" ry="3.68" fill="#b446b6"/>
<ellipse cx="62.6" cy="289.2" rx="1.60" ry="1.44" fill="#dcbedf"/>
<ellipse cx="69.5" cy="287.7" rx="4.00" ry="3.68" fill="#b446b6"/>
<ellipse cx="69.5" cy="287.7" rx="1.60" ry="1.44" fill="#dcbedf"/>
<ellipse cx="73.4" cy="290" rx="3.50" ry="3.22" fill="#b446b6"/>
<ellipse cx="73.4" cy="290" rx="1.40" ry="1.26" fill="#dcbedf"/>
<ellipse cx="69.5" cy="294.6" rx="4.00" ry="3.68" fill="#b446b6"/>
<ellipse cx="69.5" cy="294.6" rx="1.60" ry="1.44" fill="#dcbedf"/>
<ellipse cx="28.8" cy="296.2" rx="4.00" ry="3.68" fill="#b446b6"/>
<ellipse cx="28.8" cy="296.2" rx="1.60" ry="1.44" fill="#dcbedf"/>
<ellipse cx="44.2" cy="296.9" rx="3.50" ry="3.22" fill="#b446b6"/>
<ellipse cx="44.2" cy="296.9" rx="1.40" ry="1.26" fill="#dcbedf"/>
<ellipse cx="29.5" cy="303.8" rx="4.00" ry="3.68" fill="#b446b6"/>
<ellipse cx="29.5" cy="303.8" rx="1.60" ry="1.44" fill="#dcbedf"/>
<ellipse cx="92.6" cy="299.2" rx="4.00" ry="3.68" fill="#b446b6"/>
<ellipse cx="92.6" cy="299.2" rx="1.60" ry="1.44" fill="#dcbedf"/>
<ellipse cx="88.8" cy="303.8" rx="4.00" ry="3.68" fill="#b446b6"/>
<ellipse cx="88.8" cy="303.8" rx="1.60" ry="1.44" fill="#dcbedf"/>
<ellipse cx="92.6" cy="306.5" rx="3.50" ry="3.22" fill="#b446b6"/>
<ellipse cx="92.6" cy="306.5" rx="1.40" ry="1.26" fill="#dcbedf"/>
<circle cx="78.00" cy="279.70" r="3.3" fill="#a0289a" />
<circle cx="82.60" cy="306.20" r="3.6" fill="#a0289a" />
<circle cx="63.40" cy="273.10" r="3.5" fill="#a0289a" />
</g>
<line x1="77.00" y1="315.20" x2="92.70" y2="315.20" stroke="#111" stroke-width="1.0" />
<text x="86.30" y="323.80" font-size="8.0" text-anchor="middle" fill="#1a1a1a" textLength="23.20" lengthAdjust="spacingAndGlyphs" stroke="#1a1a1a" stroke-width="0.22" >20 µm</text>
<text x="111.90" y="186.10" font-size="15" text-anchor="start" font-weight="bold" fill="#000" textLength="9.00" lengthAdjust="spacingAndGlyphs" >E</text>
<text x="149.40" y="194.30" font-size="9.5" text-anchor="start" fill="#1a1a1a" textLength="71.00" lengthAdjust="spacingAndGlyphs" stroke="#1a1a1a" stroke-width="0.16" >MLL-6315 (PDX)</text>
<line x1="142.50" y1="201.30" x2="142.50" y2="291.60" stroke="#1a1a1a" stroke-width="1.5" />
<line x1="139.10" y1="216.10" x2="142.50" y2="216.10" stroke="#1a1a1a" stroke-width="1.0" />
<text x="136.60" y="219.02" font-size="9.0" text-anchor="end" fill="#1a1a1a" stroke="#1a1a1a" stroke-width="0.22" >30</text>
<line x1="139.10" y1="241.00" x2="142.50" y2="241.00" stroke="#1a1a1a" stroke-width="1.0" />
<text x="136.60" y="243.92" font-size="9.0" text-anchor="end" fill="#1a1a1a" stroke="#1a1a1a" stroke-width="0.22" >20</text>
<line x1="139.10" y1="265.90" x2="142.50" y2="265.90" stroke="#1a1a1a" stroke-width="1.0" />
<text x="136.60" y="268.82" font-size="9.0" text-anchor="end" fill="#1a1a1a" stroke="#1a1a1a" stroke-width="0.22" >10</text>
<line x1="139.10" y1="290.80" x2="142.50" y2="290.80" stroke="#1a1a1a" stroke-width="1.0" />
<text x="136.60" y="293.72" font-size="9.0" text-anchor="end" fill="#1a1a1a" stroke="#1a1a1a" stroke-width="0.22" >0</text>
<line x1="140.50" y1="203.65" x2="142.50" y2="203.65" stroke="#1a1a1a" stroke-width="1.0" />
<line x1="140.50" y1="228.55" x2="142.50" y2="228.55" stroke="#1a1a1a" stroke-width="1.0" />
<line x1="140.50" y1="253.45" x2="142.50" y2="253.45" stroke="#1a1a1a" stroke-width="1.0" />
<line x1="140.50" y1="278.35" x2="142.50" y2="278.35" stroke="#1a1a1a" stroke-width="1.0" />
<text x="122.00" y="251.80" font-size="10.0" text-anchor="middle" fill="#1a1a1a" textLength="43.10" lengthAdjust="spacingAndGlyphs" transform="rotate(-90 122.00 251.80)" stroke="#1a1a1a" stroke-width="0.16" >hCD45+ (%)</text>
<line x1="142.30" y1="290.90" x2="225.00" y2="290.90" stroke="#1a1a1a" stroke-width="1.5" />
<line x1="142.30" y1="290.90" x2="142.30" y2="293.40" stroke="#1a1a1a" stroke-width="1.0" />
<line x1="149.10" y1="290.90" x2="149.10" y2="292.80" stroke="#1a1a1a" stroke-width="1.0" />
<line x1="155.90" y1="290.90" x2="155.90" y2="292.80" stroke="#1a1a1a" stroke-width="1.0" />
<line x1="162.70" y1="290.90" x2="162.70" y2="292.80" stroke="#1a1a1a" stroke-width="1.0" />
<line x1="169.50" y1="290.90" x2="169.50" y2="293.40" stroke="#1a1a1a" stroke-width="1.0" />
<line x1="176.30" y1="290.90" x2="176.30" y2="292.80" stroke="#1a1a1a" stroke-width="1.0" />
<line x1="183.10" y1="290.90" x2="183.10" y2="292.80" stroke="#1a1a1a" stroke-width="1.0" />
<line x1="189.90" y1="290.90" x2="189.90" y2="292.80" stroke="#1a1a1a" stroke-width="1.0" />
<line x1="196.70" y1="290.90" x2="196.70" y2="293.40" stroke="#1a1a1a" stroke-width="1.0" />
<line x1="203.50" y1="290.90" x2="203.50" y2="292.80" stroke="#1a1a1a" stroke-width="1.0" />
<line x1="210.30" y1="290.90" x2="210.30" y2="292.80" stroke="#1a1a1a" stroke-width="1.0" />
<line x1="217.10" y1="290.90" x2="217.10" y2="292.80" stroke="#1a1a1a" stroke-width="1.0" />
<line x1="223.90" y1="290.90" x2="223.90" y2="293.40" stroke="#1a1a1a" stroke-width="1.0" />
<text x="142.30" y="303.70" font-size="8.2" text-anchor="middle" fill="#1a1a1a" stroke="#1a1a1a" stroke-width="0.22" >0</text>
<text x="169.50" y="303.70" font-size="8.2" text-anchor="middle" fill="#1a1a1a" stroke="#1a1a1a" stroke-width="0.22" >10</text>
<text x="196.70" y="303.70" font-size="8.2" text-anchor="middle" fill="#1a1a1a" stroke="#1a1a1a" stroke-width="0.22" >20</text>
<text x="223.90" y="303.70" font-size="8.2" text-anchor="middle" fill="#1a1a1a" stroke="#1a1a1a" stroke-width="0.22" >30</text>
<text x="155.00" y="317.40" font-size="10.3" text-anchor="start" fill="#1a1a1a" textLength="60.00" lengthAdjust="spacingAndGlyphs" stroke="#1a1a1a" stroke-width="0.16" >Days of treatment</text>
<line x1="183.40" y1="211.50" x2="183.40" y2="244.00" stroke="#4b1c70" stroke-width="0.9" />
<line x1="181.60" y1="211.50" x2="185.20" y2="211.50" stroke="#4b1c70" stroke-width="0.9" />
<line x1="181.60" y1="244.00" x2="185.20" y2="244.00" stroke="#4b1c70" stroke-width="0.9" />
<line x1="218.80" y1="230.60" x2="218.80" y2="235.70" stroke="#4b1c70" stroke-width="0.9" />
<line x1="217.00" y1="230.60" x2="220.60" y2="230.60" stroke="#4b1c70" stroke-width="0.9" />
<line x1="217.00" y1="235.70" x2="220.60" y2="235.70" stroke="#4b1c70" stroke-width="0.9" />
<line x1="164.50" y1="250.60" x2="164.50" y2="268.00" stroke="#284c8c" stroke-width="0.9" />
<line x1="162.70" y1="250.60" x2="166.30" y2="250.60" stroke="#284c8c" stroke-width="0.9" />
<line x1="162.70" y1="268.00" x2="166.30" y2="268.00" stroke="#284c8c" stroke-width="0.9" />
<line x1="164.50" y1="262.00" x2="164.50" y2="271.40" stroke="#4b1c70" stroke-width="0.9" />
<line x1="162.70" y1="262.00" x2="166.30" y2="262.00" stroke="#4b1c70" stroke-width="0.9" />
<line x1="162.70" y1="271.40" x2="166.30" y2="271.40" stroke="#4b1c70" stroke-width="0.9" />
<line x1="183.40" y1="251.30" x2="183.40" y2="271.40" stroke="#62ad3a" stroke-width="0.9" />
<line x1="181.60" y1="251.30" x2="185.20" y2="251.30" stroke="#62ad3a" stroke-width="0.9" />
<line x1="181.60" y1="271.40" x2="185.20" y2="271.40" stroke="#62ad3a" stroke-width="0.9" />
<line x1="218.80" y1="253.00" x2="218.80" y2="271.00" stroke="#62ad3a" stroke-width="0.9" />
<line x1="217.00" y1="253.00" x2="220.60" y2="253.00" stroke="#62ad3a" stroke-width="0.9" />
<line x1="217.00" y1="271.00" x2="220.60" y2="271.00" stroke="#62ad3a" stroke-width="0.9" />
<line x1="183.40" y1="279.20" x2="183.40" y2="282.80" stroke="#b0102e" stroke-width="0.9" />
<line x1="181.80" y1="279.20" x2="185.00" y2="279.20" stroke="#b0102e" stroke-width="0.9" />
<line x1="181.80" y1="282.80" x2="185.00" y2="282.80" stroke="#b0102e" stroke-width="0.9" />
<polyline points="142.40,285.32 164.50,261.42 183.40,261.67 218.80,261.67" fill="none" stroke="#62ad3a" stroke-width="1.3" stroke-linejoin="miter" />
<polyline points="142.40,285.32 164.50,266.40 183.40,281.09 218.80,288.06" fill="none" stroke="#b0102e" stroke-width="1.3" stroke-linejoin="miter" />
<polyline points="142.40,285.32 164.50,259.18 183.40,285.07 218.80,289.56" fill="none" stroke="#284c8c" stroke-width="1.3" stroke-linejoin="miter" />
<polyline points="142.40,285.32 164.50,263.41 183.40,227.80 218.80,233.53" fill="none" stroke="#4b1c70" stroke-width="1.3" stroke-linejoin="miter" />
<polygon points="140.90,286.52 143.90,286.52 142.40,283.82" fill="#62ad3a"/>
<polygon points="163.00,262.62 166.00,262.62 164.50,259.92" fill="#62ad3a"/>
<polygon points="181.90,262.87 184.90,262.87 183.40,260.17" fill="#62ad3a"/>
<polygon points="217.30,262.87 220.30,262.87 218.80,260.17" fill="#62ad3a"/>
<polygon points="140.80,284.04 144.00,284.04 142.40,286.92" fill="#b0102e"/>
<polygon points="162.90,265.12 166.10,265.12 164.50,268.00" fill="#b0102e"/>
<polygon points="181.80,279.81 185.00,279.81 183.40,282.69" fill="#b0102e"/>
<polygon points="217.20,286.78 220.40,286.78 218.80,289.66" fill="#b0102e"/>
<rect x="140.90" y="283.82" width="3.00" height="3.00" fill="#284c8c"/>
<rect x="163.00" y="257.68" width="3.00" height="3.00" fill="#284c8c"/>
<rect x="181.90" y="283.57" width="3.00" height="3.00" fill="#284c8c"/>
<rect x="217.30" y="288.06" width="3.00" height="3.00" fill="#284c8c"/>
<polygon points="140.40,285.32 142.40,283.32 144.40,285.32 142.40,287.32" fill="#4b1c70"/>
<polygon points="162.50,263.41 164.50,261.41 166.50,263.41 164.50,265.41" fill="#4b1c70"/>
<polygon points="181.40,227.80 183.40,225.80 185.40,227.80 183.40,229.80" fill="#4b1c70"/>
<polygon points="216.80,233.53 218.80,231.53 220.80,233.53 218.80,235.53" fill="#4b1c70"/>
<line x1="146.00" y1="206.50" x2="151.20" y2="206.50" stroke="#4b1c70" stroke-width="1.2" />
<polygon points="146.80,206.50 148.60,204.70 150.40,206.50 148.60,208.30" fill="#4b1c70"/>
<text x="154.80" y="209.30" font-size="8.2" text-anchor="start" fill="#1a1a1a" textLength="25.00" lengthAdjust="spacingAndGlyphs" stroke="#1a1a1a" stroke-width="0.22" >vehicle</text>
<line x1="146.00" y1="216.20" x2="151.20" y2="216.20" stroke="#284c8c" stroke-width="1.2" />
<rect x="147.20" y="214.80" width="2.80" height="2.80" fill="#284c8c"/>
<text x="154.80" y="219.00" font-size="8.2" text-anchor="start" fill="#1a1a1a" textLength="30.00" lengthAdjust="spacingAndGlyphs" stroke="#1a1a1a" stroke-width="0.22" >MI-3454</text>
<line x1="191.20" y1="204.60" x2="196.40" y2="204.60" stroke="#62ad3a" stroke-width="1.2" />
<polygon points="192.30,205.80 195.30,205.80 193.80,203.10" fill="#62ad3a"/>
<text x="199.90" y="207.40" font-size="8.2" text-anchor="start" fill="#1a1a1a" textLength="15.50" lengthAdjust="spacingAndGlyphs" stroke="#1a1a1a" stroke-width="0.22" >Gilt.</text>
<line x1="191.20" y1="216.40" x2="196.40" y2="216.40" stroke="#b0102e" stroke-width="1.2" />
<polygon points="192.30,215.20 195.30,215.20 193.80,217.90" fill="#b0102e"/>
<text x="199.90" y="219.20" font-size="8.2" text-anchor="start" fill="#1a1a1a" textLength="30.00" lengthAdjust="spacingAndGlyphs" stroke="#1a1a1a" stroke-width="0.22" >MI-3454</text>
<text x="201.00" y="228.20" font-size="8.2" text-anchor="start" fill="#1a1a1a" textLength="23.00" lengthAdjust="spacingAndGlyphs" stroke="#1a1a1a" stroke-width="0.22" >+ Gilt.</text>
<line x1="224.00" y1="233.30" x2="224.00" y2="261.80" stroke="#444" stroke-width="1.0" />
<line x1="232.30" y1="233.30" x2="232.30" y2="287.80" stroke="#444" stroke-width="1.0" />
<line x1="240.90" y1="233.30" x2="240.90" y2="289.50" stroke="#444" stroke-width="1.0" />
<circle cx="220.00" cy="246.80" r="0.95" fill="#111" />
<circle cx="228.10" cy="256.70" r="0.95" fill="#111" />
<circle cx="228.10" cy="259.40" r="0.95" fill="#111" />
<circle cx="228.10" cy="262.10" r="0.95" fill="#111" />
<circle cx="228.10" cy="264.80" r="0.95" fill="#111" />
<circle cx="236.90" cy="256.70" r="0.95" fill="#111" />
<circle cx="236.90" cy="259.40" r="0.95" fill="#111" />
<circle cx="236.90" cy="262.10" r="0.95" fill="#111" />
<circle cx="236.90" cy="264.80" r="0.95" fill="#111" />
<text x="256.80" y="185.90" font-size="15" text-anchor="start" font-weight="bold" fill="#000" textLength="8.70" lengthAdjust="spacingAndGlyphs" >F</text>
<text x="292.70" y="193.90" font-size="8.6" text-anchor="start" fill="#1a1a1a" textLength="71.10" lengthAdjust="spacingAndGlyphs" stroke="#1a1a1a" stroke-width="0.22" >MLL-6315 (PDX)</text>
<line x1="289.40" y1="211.30" x2="289.40" y2="291.60" stroke="#1a1a1a" stroke-width="1.5" />
<line x1="286.50" y1="213.98" x2="289.40" y2="213.98" stroke="#1a1a1a" stroke-width="1.0" />
<text x="283.66" y="217.33" font-size="10.2" text-anchor="end" fill="#1a1a1a" stroke="#1a1a1a" stroke-width="0.16" >60</text>
<line x1="286.50" y1="239.52" x2="289.40" y2="239.52" stroke="#1a1a1a" stroke-width="1.0" />
<text x="283.66" y="242.87" font-size="10.2" text-anchor="end" fill="#1a1a1a" stroke="#1a1a1a" stroke-width="0.16" >40</text>
<line x1="286.50" y1="265.06" x2="289.40" y2="265.06" stroke="#1a1a1a" stroke-width="1.0" />
<text x="283.66" y="268.41" font-size="10.2" text-anchor="end" fill="#1a1a1a" stroke="#1a1a1a" stroke-width="0.16" >20</text>
<line x1="286.50" y1="290.60" x2="289.40" y2="290.60" stroke="#1a1a1a" stroke-width="1.0" />
<text x="283.66" y="293.95" font-size="10.2" text-anchor="end" fill="#1a1a1a" stroke="#1a1a1a" stroke-width="0.16" >0</text>
<text x="267.50" y="250.10" font-size="10.0" text-anchor="middle" fill="#1a1a1a" textLength="43.10" lengthAdjust="spacingAndGlyphs" transform="rotate(-90 267.50 250.10)" stroke="#1a1a1a" stroke-width="0.16" >hCD45+ (%)</text>
<line x1="289.30" y1="290.90" x2="366.30" y2="290.90" stroke="#1a1a1a" stroke-width="1.5" />
<line x1="301.10" y1="290.90" x2="301.10" y2="293.40" stroke="#1a1a1a" stroke-width="1.0" />
<line x1="318.40" y1="290.90" x2="318.40" y2="293.40" stroke="#1a1a1a" stroke-width="1.0" />
<line x1="336.20" y1="290.90" x2="336.20" y2="293.40" stroke="#1a1a1a" stroke-width="1.0" />
<line x1="354.00" y1="290.90" x2="354.00" y2="293.40" stroke="#1a1a1a" stroke-width="1.0" />
<line x1="301.10" y1="235.60" x2="301.10" y2="280.70" stroke="#4b1c70" stroke-width="0.9" />
<line x1="299.30" y1="235.60" x2="302.90" y2="235.60" stroke="#4b1c70" stroke-width="0.9" />
<line x1="299.30" y1="280.70" x2="302.90" y2="280.70" stroke="#4b1c70" stroke-width="0.9" />
<line x1="295.60" y1="258.20" x2="306.80" y2="258.20" stroke="#4b1c70" stroke-width="1.1" />
<circle cx="301.20" cy="219.90" r="1.8" fill="#4b1c70" />
<circle cx="298.20" cy="259.90" r="1.8" fill="#4b1c70" />
<circle cx="304.20" cy="264.70" r="1.8" fill="#4b1c70" />
<circle cx="301.10" cy="270.80" r="1.8" fill="#4b1c70" />
<circle cx="301.10" cy="276.00" r="1.8" fill="#4b1c70" />
<line x1="318.90" y1="268.20" x2="318.90" y2="290.00" stroke="#284c8c" stroke-width="0.9" />
<line x1="317.10" y1="268.20" x2="320.70" y2="268.20" stroke="#284c8c" stroke-width="0.9" />
<line x1="317.10" y1="290.00" x2="320.70" y2="290.00" stroke="#284c8c" stroke-width="0.9" />
<line x1="313.70" y1="282.90" x2="324.60" y2="282.90" stroke="#284c8c" stroke-width="1.1" />
<rect x="317.30" y="246.70" width="3.20" height="3.20" fill="#284c8c"/>
<circle cx="318.90" cy="277.70" r="1.7" fill="#284c8c" />
<circle cx="315.80" cy="288.60" r="1.7" fill="#284c8c" />
<circle cx="318.90" cy="289.40" r="1.7" fill="#284c8c" />
<circle cx="321.80" cy="288.60" r="1.7" fill="#284c8c" />
<circle cx="317.30" cy="290.20" r="1.7" fill="#284c8c" />
<circle cx="320.50" cy="290.20" r="1.7" fill="#284c8c" />
<line x1="336.60" y1="240.20" x2="336.60" y2="290.00" stroke="#62ad3a" stroke-width="0.9" />
<line x1="334.80" y1="240.20" x2="338.40" y2="240.20" stroke="#62ad3a" stroke-width="0.9" />
<line x1="334.80" y1="290.00" x2="338.40" y2="290.00" stroke="#62ad3a" stroke-width="0.9" />
<line x1="331.00" y1="266.00" x2="342.30" y2="266.00" stroke="#62ad3a" stroke-width="1.1" />
<polygon points="331.70,263.62 335.50,263.62 333.60,260.20" fill="#62ad3a"/>
<polygon points="337.80,263.62 341.60,263.62 339.70,260.20" fill="#62ad3a"/>
<polygon points="331.70,291.12 335.50,291.12 333.60,287.70" fill="#62ad3a"/>
<polygon points="337.80,291.12 341.60,291.12 339.70,287.70" fill="#62ad3a"/>
<polygon points="334.70,229.22 338.50,229.22 336.60,225.80" fill="#62ad3a"/>
<text x="336.60" y="220.80" font-size="7.6" text-anchor="middle" fill="#1a1a1a" textLength="7.50" lengthAdjust="spacingAndGlyphs" stroke="#1a1a1a" stroke-width="0.22" >ns</text>
<text x="319.40" y="239.60" font-size="7.6" text-anchor="middle" fill="#1a1a1a" textLength="7.50" lengthAdjust="spacingAndGlyphs" stroke="#1a1a1a" stroke-width="0.22" >ns</text>
<circle cx="350.50" cy="289.60" r="1.3" fill="#b0102e" />
<circle cx="352.50" cy="289.60" r="1.3" fill="#b0102e" />
<circle cx="354.50" cy="289.60" r="1.3" fill="#b0102e" />
<circle cx="356.50" cy="289.60" r="1.3" fill="#b0102e" />
<circle cx="358.50" cy="289.60" r="1.3" fill="#b0102e" />
<text x="354.00" y="287.00" font-size="7.0" text-anchor="middle" fill="#1a1a1a" stroke="#1a1a1a" stroke-width="0.22" >*</text>
<text x="304.60" y="302.20" font-size="9.0" text-anchor="end" fill="#1a1a1a" textLength="28.50" lengthAdjust="spacingAndGlyphs" transform="rotate(-45 304.60 302.20)" stroke="#1a1a1a" stroke-width="0.22" >vehicle</text>
<text x="321.90" y="302.40" font-size="9.0" text-anchor="end" fill="#1a1a1a" textLength="34.00" lengthAdjust="spacingAndGlyphs" transform="rotate(-45 321.90 302.40)" stroke="#1a1a1a" stroke-width="0.22" >MI-3454</text>
<text x="339.70" y="302.20" font-size="9.0" text-anchor="end" fill="#1a1a1a" textLength="16.50" lengthAdjust="spacingAndGlyphs" transform="rotate(-45 339.70 302.20)" stroke="#1a1a1a" stroke-width="0.22" >Gilt.</text>
<text x="357.90" y="302.00" font-size="9.0" text-anchor="end" fill="#1a1a1a" textLength="34.00" lengthAdjust="spacingAndGlyphs" transform="rotate(-45 357.90 302.00)" stroke="#1a1a1a" stroke-width="0.22" >MI-3454</text>
<text x="364.80" y="310.20" font-size="9.0" text-anchor="end" fill="#1a1a1a" textLength="23.50" lengthAdjust="spacingAndGlyphs" transform="rotate(-45 364.80 310.20)" stroke="#1a1a1a" stroke-width="0.22" >+ Gilt.</text>
<text x="381.50" y="186.10" font-size="15" text-anchor="start" font-weight="bold" fill="#000" >G</text>
<text x="417.70" y="193.90" font-size="8.6" text-anchor="start" fill="#1a1a1a" textLength="71.10" lengthAdjust="spacingAndGlyphs" stroke="#1a1a1a" stroke-width="0.22" >MLL-6315 (PDX)</text>
<line x1="413.00" y1="210.30" x2="413.00" y2="291.60" stroke="#1a1a1a" stroke-width="1.5" />
<line x1="409.50" y1="212.70" x2="413.00" y2="212.70" stroke="#1a1a1a" stroke-width="1.0" />
<text x="406.76" y="215.30" font-size="8.1" text-anchor="end" fill="#1a1a1a" stroke="#1a1a1a" stroke-width="0.22" >15</text>
<line x1="409.50" y1="238.70" x2="413.00" y2="238.70" stroke="#1a1a1a" stroke-width="1.0" />
<text x="406.76" y="241.30" font-size="8.1" text-anchor="end" fill="#1a1a1a" stroke="#1a1a1a" stroke-width="0.22" >10</text>
<line x1="409.50" y1="264.70" x2="413.00" y2="264.70" stroke="#1a1a1a" stroke-width="1.0" />
<text x="406.76" y="267.30" font-size="8.1" text-anchor="end" fill="#1a1a1a" stroke="#1a1a1a" stroke-width="0.22" >5</text>
<line x1="409.50" y1="290.70" x2="413.00" y2="290.70" stroke="#1a1a1a" stroke-width="1.0" />
<text x="406.76" y="293.30" font-size="8.1" text-anchor="end" fill="#1a1a1a" stroke="#1a1a1a" stroke-width="0.22" >0</text>
<text x="393.00" y="250.10" font-size="10.0" text-anchor="middle" fill="#1a1a1a" textLength="43.10" lengthAdjust="spacingAndGlyphs" transform="rotate(-90 393.00 250.10)" stroke="#1a1a1a" stroke-width="0.16" >hCD45+ (%)</text>
<text x="415.50" y="209.90" font-size="6.8" text-anchor="start" fill="#1a1a1a" textLength="28.70" lengthAdjust="spacingAndGlyphs" stroke="#1a1a1a" stroke-width="0.12" >treatment</text>
<text x="415.50" y="217.70" font-size="6.8" text-anchor="start" fill="#1a1a1a" textLength="28.20" lengthAdjust="spacingAndGlyphs" stroke="#1a1a1a" stroke-width="0.12" >(d28-d56)</text>
<line x1="417.30" y1="223.70" x2="425.90" y2="223.70" stroke="#111" stroke-width="0.9" />
<polygon points="416.30,223.70 419.38,221.94 419.38,225.46" fill="#111"/>
<polygon points="426.90,223.70 423.82,221.94 423.82,225.46" fill="#111"/>
<line x1="412.90" y1="290.90" x2="493.30" y2="290.90" stroke="#1a1a1a" stroke-width="1.5" />
<line x1="412.90" y1="290.90" x2="412.90" y2="293.40" stroke="#1a1a1a" stroke-width="1.0" />
<line x1="425.53" y1="290.90" x2="425.53" y2="293.40" stroke="#1a1a1a" stroke-width="1.0" />
<line x1="438.17" y1="290.90" x2="438.17" y2="293.40" stroke="#1a1a1a" stroke-width="1.0" />
<line x1="450.80" y1="290.90" x2="450.80" y2="293.40" stroke="#1a1a1a" stroke-width="1.0" />
<line x1="463.44" y1="290.90" x2="463.44" y2="293.40" stroke="#1a1a1a" stroke-width="1.0" />
<line x1="476.07" y1="290.90" x2="476.07" y2="293.40" stroke="#1a1a1a" stroke-width="1.0" />
<line x1="488.71" y1="290.90" x2="488.71" y2="293.40" stroke="#1a1a1a" stroke-width="1.0" />
<text x="417.50" y="301.20" font-size="7.4" text-anchor="end" fill="#1a1a1a" transform="rotate(-45 417.50 301.20)" stroke="#1a1a1a" stroke-width="0.22" >0</text>
<text x="430.13" y="301.20" font-size="7.4" text-anchor="end" fill="#1a1a1a" transform="rotate(-45 430.13 301.20)" stroke="#1a1a1a" stroke-width="0.22" >50</text>
<text x="442.77" y="301.20" font-size="7.4" text-anchor="end" fill="#1a1a1a" transform="rotate(-45 442.77 301.20)" stroke="#1a1a1a" stroke-width="0.22" >100</text>
<text x="455.40" y="301.20" font-size="7.4" text-anchor="end" fill="#1a1a1a" transform="rotate(-45 455.40 301.20)" stroke="#1a1a1a" stroke-width="0.22" >150</text>
<text x="468.04" y="301.20" font-size="7.4" text-anchor="end" fill="#1a1a1a" transform="rotate(-45 468.04 301.20)" stroke="#1a1a1a" stroke-width="0.22" >200</text>
<text x="480.68" y="301.20" font-size="7.4" text-anchor="end" fill="#1a1a1a" transform="rotate(-45 480.68 301.20)" stroke="#1a1a1a" stroke-width="0.22" >250</text>
<text x="493.31" y="301.20" font-size="7.4" text-anchor="end" fill="#1a1a1a" transform="rotate(-45 493.31 301.20)" stroke="#1a1a1a" stroke-width="0.22" >300</text>
<text x="409.60" y="324.70" font-size="10.3" text-anchor="start" fill="#1a1a1a" textLength="86.60" lengthAdjust="spacingAndGlyphs" stroke="#1a1a1a" stroke-width="0.16" >Days after transplantation</text>
<polyline points="420.60,278.50 422.70,238.70 424.00,265.60 424.40,271.90 426.00,277.10 427.90,284.20 429.80,284.80 431.70,285.80 434.60,288.70 437.50,287.70 441.30,287.10 449.60,287.70 454.80,288.70 457.70,290.00 468.30,290.00 476.50,288.00 487.50,290.60" fill="none" stroke="#b0102e" stroke-width="1.2" stroke-linejoin="miter" />
<line x1="422.70" y1="238.70" x2="423.50" y2="249.20" stroke="#b0102e" stroke-width="1.0" />
<line x1="423.50" y1="249.20" x2="424.40" y2="271.90" stroke="#b0102e" stroke-width="1.0" />
<line x1="422.60" y1="226.00" x2="422.60" y2="251.00" stroke="#b0102e" stroke-width="0.9" />
<line x1="421.00" y1="226.00" x2="424.20" y2="226.00" stroke="#b0102e" stroke-width="0.9" />
<line x1="421.00" y1="251.00" x2="424.20" y2="251.00" stroke="#b0102e" stroke-width="0.9" />
<line x1="424.00" y1="262.00" x2="424.00" y2="269.00" stroke="#b0102e" stroke-width="0.8" />
<line x1="422.60" y1="262.00" x2="425.40" y2="262.00" stroke="#b0102e" stroke-width="0.8" />
<line x1="422.60" y1="269.00" x2="425.40" y2="269.00" stroke="#b0102e" stroke-width="0.8" />
<line x1="427.90" y1="281.00" x2="427.90" y2="287.00" stroke="#b0102e" stroke-width="0.8" />
<line x1="426.50" y1="281.00" x2="429.30" y2="281.00" stroke="#b0102e" stroke-width="0.8" />
<line x1="426.50" y1="287.00" x2="429.30" y2="287.00" stroke="#b0102e" stroke-width="0.8" />
<line x1="430.50" y1="281.50" x2="430.50" y2="288.00" stroke="#b0102e" stroke-width="0.8" />
<line x1="429.10" y1="281.50" x2="431.90" y2="281.50" stroke="#b0102e" stroke-width="0.8" />
<line x1="429.10" y1="288.00" x2="431.90" y2="288.00" stroke="#b0102e" stroke-width="0.8" />
<line x1="441.30" y1="285.50" x2="441.30" y2="289.00" stroke="#b0102e" stroke-width="0.8" />
<line x1="439.90" y1="285.50" x2="442.70" y2="285.50" stroke="#b0102e" stroke-width="0.8" />
<line x1="439.90" y1="289.00" x2="442.70" y2="289.00" stroke="#b0102e" stroke-width="0.8" />
<circle cx="420.60" cy="278.50" r="1.7" fill="#b0102e" />
<circle cx="422.70" cy="238.70" r="1.7" fill="#b0102e" />
<circle cx="423.00" cy="249.20" r="1.7" fill="#b0102e" />
<circle cx="424.00" cy="265.60" r="1.7" fill="#b0102e" />
<circle cx="424.40" cy="271.90" r="1.7" fill="#b0102e" />
<circle cx="426.00" cy="277.10" r="1.7" fill="#b0102e" />
<circle cx="427.90" cy="284.20" r="1.7" fill="#b0102e" />
<circle cx="429.80" cy="284.80" r="1.7" fill="#b0102e" />
<circle cx="431.70" cy="285.80" r="1.7" fill="#b0102e" />
<circle cx="434.60" cy="288.70" r="1.7" fill="#b0102e" />
<circle cx="437.50" cy="287.70" r="1.7" fill="#b0102e" />
<circle cx="441.30" cy="287.10" r="1.7" fill="#b0102e" />
<circle cx="449.60" cy="287.70" r="1.7" fill="#b0102e" />
<circle cx="454.80" cy="288.70" r="1.7" fill="#b0102e" />
<circle cx="457.70" cy="290.00" r="1.7" fill="#b0102e" />
<circle cx="468.30" cy="290.00" r="1.7" fill="#b0102e" />
<circle cx="476.50" cy="288.00" r="1.7" fill="#b0102e" />
<circle cx="487.50" cy="290.60" r="1.7" fill="#b0102e" />
<text x="5.00" y="355.00" font-size="15" text-anchor="start" font-weight="bold" fill="#000" >H</text>
<text x="64.80" y="362.00" font-size="9.5" text-anchor="start" fill="#1a1a1a" textLength="71.70" lengthAdjust="spacingAndGlyphs" stroke="#1a1a1a" stroke-width="0.16" >MLL-6315 (PDX)</text>
<line x1="34.90" y1="375.80" x2="43.10" y2="375.80" stroke="#6c3c8e" stroke-width="1.2" />
<line x1="39.00" y1="374.40" x2="39.00" y2="375.80" stroke="#6c3c8e" stroke-width="1.0" />
<text x="46.60" y="377.60" font-size="7.4" text-anchor="start" fill="#1a1a1a" textLength="23.10" lengthAdjust="spacingAndGlyphs" stroke="#1a1a1a" stroke-width="0.22" >vehicle</text>
<line x1="73.10" y1="375.80" x2="81.20" y2="375.80" stroke="#6ab04a" stroke-width="1.2" />
<line x1="77.15" y1="374.40" x2="77.15" y2="375.80" stroke="#6ab04a" stroke-width="1.0" />
<text x="84.20" y="377.60" font-size="7.4" text-anchor="start" fill="#1a1a1a" textLength="13.50" lengthAdjust="spacingAndGlyphs" stroke="#1a1a1a" stroke-width="0.22" >Gilt.</text>
<line x1="101.90" y1="375.80" x2="110.20" y2="375.80" stroke="#3a5a9c" stroke-width="1.2" />
<line x1="106.05" y1="374.40" x2="106.05" y2="375.80" stroke="#3a5a9c" stroke-width="1.0" />
<text x="113.00" y="378.30" font-size="7.4" text-anchor="start" fill="#1a1a1a" textLength="28.50" lengthAdjust="spacingAndGlyphs" stroke="#1a1a1a" stroke-width="0.22" >MI-3454</text>
<line x1="144.80" y1="375.80" x2="152.50" y2="375.80" stroke="#cc3f68" stroke-width="1.2" />
<line x1="148.65" y1="374.40" x2="148.65" y2="375.80" stroke="#cc3f68" stroke-width="1.0" />
<text x="155.80" y="374.40" font-size="7.4" text-anchor="start" fill="#1a1a1a" textLength="28.40" lengthAdjust="spacingAndGlyphs" stroke="#1a1a1a" stroke-width="0.22" >MI-3454</text>
<text x="156.60" y="383.70" font-size="7.4" text-anchor="start" fill="#1a1a1a" textLength="21.50" lengthAdjust="spacingAndGlyphs" stroke="#1a1a1a" stroke-width="0.22" >+ Gilt.</text>
<line x1="40.90" y1="387.10" x2="40.90" y2="470.50" stroke="#1a1a1a" stroke-width="1.5" />
<line x1="38.00" y1="395.20" x2="40.90" y2="395.20" stroke="#1a1a1a" stroke-width="1.0" />
<text x="35.17" y="397.87" font-size="8.3" text-anchor="end" fill="#1a1a1a" stroke="#1a1a1a" stroke-width="0.22" >100</text>
<line x1="38.00" y1="410.10" x2="40.90" y2="410.10" stroke="#1a1a1a" stroke-width="1.0" />
<text x="35.17" y="412.77" font-size="8.3" text-anchor="end" fill="#1a1a1a" stroke="#1a1a1a" stroke-width="0.22" >80</text>
<line x1="38.00" y1="425.00" x2="40.90" y2="425.00" stroke="#1a1a1a" stroke-width="1.0" />
<text x="35.17" y="427.67" font-size="8.3" text-anchor="end" fill="#1a1a1a" stroke="#1a1a1a" stroke-width="0.22" >60</text>
<line x1="38.00" y1="439.90" x2="40.90" y2="439.90" stroke="#1a1a1a" stroke-width="1.0" />
<text x="35.17" y="442.57" font-size="8.3" text-anchor="end" fill="#1a1a1a" stroke="#1a1a1a" stroke-width="0.22" >40</text>
<line x1="38.00" y1="454.80" x2="40.90" y2="454.80" stroke="#1a1a1a" stroke-width="1.0" />
<text x="35.17" y="457.47" font-size="8.3" text-anchor="end" fill="#1a1a1a" stroke="#1a1a1a" stroke-width="0.22" >20</text>
<line x1="38.00" y1="469.70" x2="40.90" y2="469.70" stroke="#1a1a1a" stroke-width="1.0" />
<text x="35.17" y="472.37" font-size="8.3" text-anchor="end" fill="#1a1a1a" stroke="#1a1a1a" stroke-width="0.22" >0</text>
<text x="16.30" y="428.30" font-size="10.0" text-anchor="middle" fill="#1a1a1a" textLength="40.30" lengthAdjust="spacingAndGlyphs" transform="rotate(-90 16.30 428.30)" stroke="#1a1a1a" stroke-width="0.16" >Survival (%)</text>
<line x1="41.00" y1="469.80" x2="159.50" y2="469.80" stroke="#1a1a1a" stroke-width="1.5" />
<line x1="41.00" y1="469.80" x2="41.00" y2="472.30" stroke="#1a1a1a" stroke-width="1.0" />
<text x="41.00" y="483.00" font-size="8.4" text-anchor="middle" fill="#1a1a1a" stroke="#1a1a1a" stroke-width="0.22" >0</text>
<line x1="60.25" y1="469.80" x2="60.25" y2="472.30" stroke="#1a1a1a" stroke-width="1.0" />
<text x="60.25" y="483.00" font-size="8.4" text-anchor="middle" fill="#1a1a1a" stroke="#1a1a1a" stroke-width="0.22" >50</text>
<line x1="79.51" y1="469.80" x2="79.51" y2="472.30" stroke="#1a1a1a" stroke-width="1.0" />
<text x="79.51" y="483.00" font-size="8.4" text-anchor="middle" fill="#1a1a1a" stroke="#1a1a1a" stroke-width="0.22" >100</text>
<line x1="98.77" y1="469.80" x2="98.77" y2="472.30" stroke="#1a1a1a" stroke-width="1.0" />
<text x="98.77" y="483.00" font-size="8.4" text-anchor="middle" fill="#1a1a1a" stroke="#1a1a1a" stroke-width="0.22" >150</text>
<line x1="118.02" y1="469.80" x2="118.02" y2="472.30" stroke="#1a1a1a" stroke-width="1.0" />
<text x="118.02" y="483.00" font-size="8.4" text-anchor="middle" fill="#1a1a1a" stroke="#1a1a1a" stroke-width="0.22" >200</text>
<line x1="137.28" y1="469.80" x2="137.28" y2="472.30" stroke="#1a1a1a" stroke-width="1.0" />
<text x="137.28" y="483.00" font-size="8.4" text-anchor="middle" fill="#1a1a1a" stroke="#1a1a1a" stroke-width="0.22" >250</text>
<line x1="156.53" y1="469.80" x2="156.53" y2="472.30" stroke="#1a1a1a" stroke-width="1.0" />
<text x="156.53" y="483.00" font-size="8.4" text-anchor="middle" fill="#1a1a1a" stroke="#1a1a1a" stroke-width="0.22" >300</text>
<text x="56.80" y="496.50" font-size="10.3" text-anchor="start" fill="#1a1a1a" textLength="87.70" lengthAdjust="spacingAndGlyphs" stroke="#1a1a1a" stroke-width="0.16" >Days after transplantation</text>
<text x="43.30" y="452.50" font-size="6.8" text-anchor="start" fill="#1a1a1a" textLength="28.80" lengthAdjust="spacingAndGlyphs" stroke="#1a1a1a" stroke-width="0.12" >treatment</text>
<text x="43.80" y="459.90" font-size="6.8" text-anchor="start" fill="#1a1a1a" textLength="28.30" lengthAdjust="spacingAndGlyphs" stroke="#1a1a1a" stroke-width="0.12" >(d28-d56)</text>
<line x1="51.40" y1="465.00" x2="60.20" y2="465.00" stroke="#111" stroke-width="0.9" />
<polygon points="50.40,465.00 53.48,463.24 53.48,466.76" fill="#111"/>
<polygon points="61.20,465.00 58.12,463.24 58.12,466.76" fill="#111"/>
<polyline points="41.00,394.70 78.40,394.70 78.40,404.00 80.50,404.00 80.50,413.70 89.30,413.70 89.30,422.90 96.30,422.90 96.30,432.20 106.90,432.20 106.90,451.00 152.50,451.00" fill="none" stroke="#3a5a9c" stroke-width="1.3" stroke-linejoin="miter" />
<polyline points="41.00,394.70 56.40,394.70 56.40,404.40 57.20,404.40 57.20,413.70 68.20,413.70 68.20,422.90 89.30,422.90 89.30,432.20 102.90,432.20 102.90,441.50 152.50,441.50" fill="none" stroke="#6ab04a" stroke-width="1.3" stroke-linejoin="miter" />
<polyline points="41.00,394.70 56.40,394.70 56.40,403.10 58.50,403.10 58.50,411.40 62.00,411.40 62.00,420.20 72.20,420.20 72.20,427.80 75.70,427.80 75.70,452.80 91.60,452.80 91.60,461.20 112.20,461.20 112.20,469.60" fill="none" stroke="#6c3c8e" stroke-width="1.3" stroke-linejoin="miter" />
<line x1="41.00" y1="394.50" x2="153.10" y2="394.50" stroke="#cc3f68" stroke-width="1.4" />
<line x1="153.10" y1="393.20" x2="153.10" y2="394.50" stroke="#cc3f68" stroke-width="1.0" />
<line x1="152.50" y1="440.20" x2="152.50" y2="441.50" stroke="#6ab04a" stroke-width="1.0" />
<line x1="152.50" y1="449.70" x2="152.50" y2="451.00" stroke="#3a5a9c" stroke-width="1.0" />
<text x="156.70" y="397.00" font-size="8.2" text-anchor="start" fill="#1a1a1a" textLength="36.60" lengthAdjust="spacingAndGlyphs" stroke="#1a1a1a" stroke-width="0.22" >p &lt; 0.0001</text>
<text x="157.70" y="442.80" font-size="8.2" text-anchor="start" fill="#1a1a1a" textLength="7.80" lengthAdjust="spacingAndGlyphs" stroke="#1a1a1a" stroke-width="0.22" >ns</text>
<text x="157.70" y="453.60" font-size="8.2" text-anchor="start" fill="#1a1a1a" textLength="28.60" lengthAdjust="spacingAndGlyphs" stroke="#1a1a1a" stroke-width="0.22" >p = 0.02</text>
<text x="208.60" y="354.70" font-size="15" text-anchor="start" font-weight="bold" fill="#000" stroke="#000" stroke-width="0.6">I</text>
<text x="249.80" y="362.10" font-size="9.6" text-anchor="start" fill="#1a1a1a" textLength="80.70" lengthAdjust="spacingAndGlyphs" stroke="#1a1a1a" stroke-width="0.16" >NPM1-5577 (PDX)</text>
<line x1="238.80" y1="368.00" x2="238.80" y2="470.50" stroke="#1a1a1a" stroke-width="1.5" />
<line x1="235.40" y1="370.70" x2="238.80" y2="370.70" stroke="#1a1a1a" stroke-width="1.0" />
<text x="232.40" y="373.55" font-size="8.8" text-anchor="end" fill="#1a1a1a" stroke="#1a1a1a" stroke-width="0.22" >50</text>
<line x1="235.40" y1="390.50" x2="238.80" y2="390.50" stroke="#1a1a1a" stroke-width="1.0" />
<text x="232.40" y="393.35" font-size="8.8" text-anchor="end" fill="#1a1a1a" stroke="#1a1a1a" stroke-width="0.22" >40</text>
<line x1="235.40" y1="410.30" x2="238.80" y2="410.30" stroke="#1a1a1a" stroke-width="1.0" />
<text x="232.40" y="413.15" font-size="8.8" text-anchor="end" fill="#1a1a1a" stroke="#1a1a1a" stroke-width="0.22" >30</text>
<line x1="235.40" y1="430.10" x2="238.80" y2="430.10" stroke="#1a1a1a" stroke-width="1.0" />
<text x="232.40" y="432.95" font-size="8.8" text-anchor="end" fill="#1a1a1a" stroke="#1a1a1a" stroke-width="0.22" >20</text>
<line x1="235.40" y1="449.90" x2="238.80" y2="449.90" stroke="#1a1a1a" stroke-width="1.0" />
<text x="232.40" y="452.75" font-size="8.8" text-anchor="end" fill="#1a1a1a" stroke="#1a1a1a" stroke-width="0.22" >10</text>
<line x1="235.40" y1="469.70" x2="238.80" y2="469.70" stroke="#1a1a1a" stroke-width="1.0" />
<text x="232.40" y="472.55" font-size="8.8" text-anchor="end" fill="#1a1a1a" stroke="#1a1a1a" stroke-width="0.22" >0</text>
<text x="219.50" y="418.10" font-size="10.0" text-anchor="middle" fill="#1a1a1a" textLength="43.10" lengthAdjust="spacingAndGlyphs" transform="rotate(-90 219.50 418.10)" stroke="#1a1a1a" stroke-width="0.16" >hCD45+ (%)</text>
<line x1="238.50" y1="469.80" x2="342.00" y2="469.80" stroke="#1a1a1a" stroke-width="1.5" />
<line x1="238.70" y1="469.80" x2="238.70" y2="472.30" stroke="#1a1a1a" stroke-width="1.0" />
<text x="238.70" y="483.20" font-size="8.4" text-anchor="middle" fill="#1a1a1a" stroke="#1a1a1a" stroke-width="0.22" >0</text>
<line x1="255.30" y1="469.80" x2="255.30" y2="472.30" stroke="#1a1a1a" stroke-width="1.0" />
<text x="255.30" y="483.20" font-size="8.4" text-anchor="middle" fill="#1a1a1a" stroke="#1a1a1a" stroke-width="0.22" >10</text>
<line x1="271.90" y1="469.80" x2="271.90" y2="472.30" stroke="#1a1a1a" stroke-width="1.0" />
<text x="271.90" y="483.20" font-size="8.4" text-anchor="middle" fill="#1a1a1a" stroke="#1a1a1a" stroke-width="0.22" >20</text>
<line x1="288.50" y1="469.80" x2="288.50" y2="472.30" stroke="#1a1a1a" stroke-width="1.0" />
<text x="288.50" y="483.20" font-size="8.4" text-anchor="middle" fill="#1a1a1a" stroke="#1a1a1a" stroke-width="0.22" >30</text>
<line x1="305.10" y1="469.80" x2="305.10" y2="472.30" stroke="#1a1a1a" stroke-width="1.0" />
<text x="305.10" y="483.20" font-size="8.4" text-anchor="middle" fill="#1a1a1a" stroke="#1a1a1a" stroke-width="0.22" >40</text>
<line x1="321.70" y1="469.80" x2="321.70" y2="472.30" stroke="#1a1a1a" stroke-width="1.0" />
<text x="321.70" y="483.20" font-size="8.4" text-anchor="middle" fill="#1a1a1a" stroke="#1a1a1a" stroke-width="0.22" >50</text>
<line x1="338.30" y1="469.80" x2="338.30" y2="472.30" stroke="#1a1a1a" stroke-width="1.0" />
<text x="338.30" y="483.20" font-size="8.4" text-anchor="middle" fill="#1a1a1a" stroke="#1a1a1a" stroke-width="0.22" >60</text>
<text x="259.90" y="496.40" font-size="10.3" text-anchor="start" fill="#1a1a1a" textLength="60.90" lengthAdjust="spacingAndGlyphs" stroke="#1a1a1a" stroke-width="0.16" >Days of treatment</text>
<line x1="295.14" y1="430.89" x2="295.14" y2="442.97" stroke="#4b1c70" stroke-width="0.9" />
<line x1="293.34" y1="430.89" x2="296.94" y2="430.89" stroke="#4b1c70" stroke-width="0.9" />
<line x1="293.34" y1="442.97" x2="296.94" y2="442.97" stroke="#4b1c70" stroke-width="0.9" />
<line x1="311.74" y1="423.37" x2="311.74" y2="438.02" stroke="#4b1c70" stroke-width="0.9" />
<line x1="309.94" y1="423.37" x2="313.54" y2="423.37" stroke="#4b1c70" stroke-width="0.9" />
<line x1="309.94" y1="438.02" x2="313.54" y2="438.02" stroke="#4b1c70" stroke-width="0.9" />
<line x1="325.02" y1="386.94" x2="325.02" y2="400.40" stroke="#4b1c70" stroke-width="0.9" />
<line x1="323.22" y1="386.94" x2="326.82" y2="386.94" stroke="#4b1c70" stroke-width="0.9" />
<line x1="323.22" y1="400.40" x2="326.82" y2="400.40" stroke="#4b1c70" stroke-width="0.9" />
<line x1="338.30" y1="377.83" x2="338.30" y2="399.81" stroke="#4b1c70" stroke-width="0.9" />
<line x1="336.50" y1="377.83" x2="340.10" y2="377.83" stroke="#4b1c70" stroke-width="0.9" />
<line x1="336.50" y1="399.81" x2="340.10" y2="399.81" stroke="#4b1c70" stroke-width="0.9" />
<line x1="271.90" y1="456.83" x2="271.90" y2="461.78" stroke="#4b1c70" stroke-width="0.9" />
<line x1="270.10" y1="456.83" x2="273.70" y2="456.83" stroke="#4b1c70" stroke-width="0.9" />
<line x1="270.10" y1="461.78" x2="273.70" y2="461.78" stroke="#4b1c70" stroke-width="0.9" />
<line x1="281.86" y1="451.88" x2="281.86" y2="455.84" stroke="#4b1c70" stroke-width="0.9" />
<line x1="280.06" y1="451.88" x2="283.66" y2="451.88" stroke="#4b1c70" stroke-width="0.9" />
<line x1="280.06" y1="455.84" x2="283.66" y2="455.84" stroke="#4b1c70" stroke-width="0.9" />
<line x1="281.86" y1="452.28" x2="281.86" y2="458.22" stroke="#62ad3a" stroke-width="0.9" />
<line x1="280.06" y1="452.28" x2="283.66" y2="452.28" stroke="#62ad3a" stroke-width="0.9" />
<line x1="280.06" y1="458.22" x2="283.66" y2="458.22" stroke="#62ad3a" stroke-width="0.9" />
<line x1="295.14" y1="445.54" x2="295.14" y2="452.67" stroke="#62ad3a" stroke-width="0.9" />
<line x1="293.34" y1="445.54" x2="296.94" y2="445.54" stroke="#62ad3a" stroke-width="0.9" />
<line x1="293.34" y1="452.67" x2="296.94" y2="452.67" stroke="#62ad3a" stroke-width="0.9" />
<line x1="311.74" y1="439.21" x2="311.74" y2="445.35" stroke="#62ad3a" stroke-width="0.9" />
<line x1="309.94" y1="439.21" x2="313.54" y2="439.21" stroke="#62ad3a" stroke-width="0.9" />
<line x1="309.94" y1="445.35" x2="313.54" y2="445.35" stroke="#62ad3a" stroke-width="0.9" />
<line x1="325.02" y1="409.11" x2="325.02" y2="425.15" stroke="#62ad3a" stroke-width="0.9" />
<line x1="323.22" y1="409.11" x2="326.82" y2="409.11" stroke="#62ad3a" stroke-width="0.9" />
<line x1="323.22" y1="425.15" x2="326.82" y2="425.15" stroke="#62ad3a" stroke-width="0.9" />
<line x1="338.30" y1="392.08" x2="338.30" y2="406.14" stroke="#62ad3a" stroke-width="0.9" />
<line x1="336.50" y1="392.08" x2="340.10" y2="392.08" stroke="#62ad3a" stroke-width="0.9" />
<line x1="336.50" y1="406.14" x2="340.10" y2="406.14" stroke="#62ad3a" stroke-width="0.9" />
<line x1="325.02" y1="452.08" x2="325.02" y2="460.79" stroke="#284c8c" stroke-width="0.9" />
<line x1="323.22" y1="452.08" x2="326.82" y2="452.08" stroke="#284c8c" stroke-width="0.9" />
<line x1="323.22" y1="460.79" x2="326.82" y2="460.79" stroke="#284c8c" stroke-width="0.9" />
<line x1="338.30" y1="443.17" x2="338.30" y2="452.08" stroke="#284c8c" stroke-width="0.9" />
<line x1="336.50" y1="443.17" x2="340.10" y2="443.17" stroke="#284c8c" stroke-width="0.9" />
<line x1="336.50" y1="452.08" x2="340.10" y2="452.08" stroke="#284c8c" stroke-width="0.9" />
<line x1="281.86" y1="462.57" x2="281.86" y2="464.95" stroke="#284c8c" stroke-width="0.9" />
<line x1="280.06" y1="462.57" x2="283.66" y2="462.57" stroke="#284c8c" stroke-width="0.9" />
<line x1="280.06" y1="464.95" x2="283.66" y2="464.95" stroke="#284c8c" stroke-width="0.9" />
<line x1="311.74" y1="464.55" x2="311.74" y2="466.73" stroke="#284c8c" stroke-width="0.9" />
<line x1="309.94" y1="464.55" x2="313.54" y2="464.55" stroke="#284c8c" stroke-width="0.9" />
<line x1="309.94" y1="466.73" x2="313.54" y2="466.73" stroke="#284c8c" stroke-width="0.9" />
<line x1="251.98" y1="457.82" x2="251.98" y2="460.99" stroke="#b0102e" stroke-width="0.9" />
<line x1="250.18" y1="457.82" x2="253.78" y2="457.82" stroke="#b0102e" stroke-width="0.9" />
<line x1="250.18" y1="460.99" x2="253.78" y2="460.99" stroke="#b0102e" stroke-width="0.9" />
<polyline points="238.70,466.53 251.98,459.40 271.90,461.38 281.86,466.93 295.14,468.71 311.74,469.11 325.02,469.11 338.30,469.11" fill="none" stroke="#b0102e" stroke-width="1.3" stroke-linejoin="miter" />
<polyline points="238.70,466.53 251.98,463.17 271.90,463.76 281.86,463.76 295.14,466.53 311.74,465.74 325.02,456.43 338.30,447.92" fill="none" stroke="#284c8c" stroke-width="1.3" stroke-linejoin="miter" />
<polyline points="238.70,466.53 251.98,461.78 271.90,460.00 281.86,455.84 295.14,449.50 311.74,442.57 325.02,418.22 338.30,400.60" fill="none" stroke="#62ad3a" stroke-width="1.3" stroke-linejoin="miter" />
<polyline points="238.70,466.53 251.98,464.95 271.90,459.21 281.86,453.86 295.14,437.23 311.74,431.49 325.02,394.06 338.30,388.12" fill="none" stroke="#4b1c70" stroke-width="1.3" stroke-linejoin="miter" />
<polygon points="236.70,464.93 240.70,464.93 238.70,468.53" fill="#b0102e"/>
<polygon points="249.98,457.80 253.98,457.80 251.98,461.40" fill="#b0102e"/>
<polygon points="269.90,459.78 273.90,459.78 271.90,463.38" fill="#b0102e"/>
<polygon points="279.86,465.33 283.86,465.33 281.86,468.93" fill="#b0102e"/>
<polygon points="293.14,467.11 297.14,467.11 295.14,470.71" fill="#b0102e"/>
<polygon points="309.74,467.51 313.74,467.51 311.74,471.11" fill="#b0102e"/>
<polygon points="323.02,467.51 327.02,467.51 325.02,471.11" fill="#b0102e"/>
<polygon points="336.30,467.51 340.30,467.51 338.30,471.11" fill="#b0102e"/>
<rect x="236.70" y="464.53" width="4.00" height="4.00" fill="#284c8c"/>
<rect x="249.98" y="461.17" width="4.00" height="4.00" fill="#284c8c"/>
<rect x="269.90" y="461.76" width="4.00" height="4.00" fill="#284c8c"/>
<rect x="279.86" y="461.76" width="4.00" height="4.00" fill="#284c8c"/>
<rect x="293.14" y="464.53" width="4.00" height="4.00" fill="#284c8c"/>
<rect x="309.74" y="463.74" width="4.00" height="4.00" fill="#284c8c"/>
<rect x="323.02" y="454.43" width="4.00" height="4.00" fill="#284c8c"/>
<rect x="336.30" y="445.92" width="4.00" height="4.00" fill="#284c8c"/>
<polygon points="236.70,468.13 240.70,468.13 238.70,464.53" fill="#62ad3a"/>
<polygon points="249.98,463.38 253.98,463.38 251.98,459.78" fill="#62ad3a"/>
<polygon points="269.90,461.60 273.90,461.60 271.90,458.00" fill="#62ad3a"/>
<polygon points="279.86,457.44 283.86,457.44 281.86,453.84" fill="#62ad3a"/>
<polygon points="293.14,451.10 297.14,451.10 295.14,447.50" fill="#62ad3a"/>
<polygon points="309.74,444.17 313.74,444.17 311.74,440.57" fill="#62ad3a"/>
<polygon points="323.02,419.82 327.02,419.82 325.02,416.22" fill="#62ad3a"/>
<polygon points="336.30,402.20 340.30,402.20 338.30,398.60" fill="#62ad3a"/>
<circle cx="238.70" cy="466.53" r="2.3" fill="#4b1c70" />
<circle cx="251.98" cy="464.95" r="2.3" fill="#4b1c70" />
<circle cx="271.90" cy="459.21" r="2.3" fill="#4b1c70" />
<circle cx="281.86" cy="453.86" r="2.3" fill="#4b1c70" />
<circle cx="295.14" cy="437.23" r="2.3" fill="#4b1c70" />
<circle cx="311.74" cy="431.49" r="2.3" fill="#4b1c70" />
<circle cx="325.02" cy="394.06" r="2.3" fill="#4b1c70" />
<circle cx="338.30" cy="388.12" r="2.3" fill="#4b1c70" />
<line x1="244.70" y1="378.90" x2="253.50" y2="378.90" stroke="#4b1c70" stroke-width="1.3" />
<circle cx="249.10" cy="378.90" r="1.7" fill="#4b1c70" />
<text x="256.40" y="381.60" font-size="8.0" text-anchor="start" fill="#1a1a1a" textLength="24.00" lengthAdjust="spacingAndGlyphs" stroke="#1a1a1a" stroke-width="0.22" >vehicle</text>
<line x1="244.70" y1="390.50" x2="253.50" y2="390.50" stroke="#62ad3a" stroke-width="1.3" />
<polygon points="246.80,392.14 251.40,392.14 249.10,388.00" fill="#62ad3a"/>
<text x="256.40" y="393.20" font-size="8.0" text-anchor="start" fill="#1a1a1a" textLength="15.40" lengthAdjust="spacingAndGlyphs" stroke="#1a1a1a" stroke-width="0.22" >Gilt.</text>
<line x1="244.70" y1="401.40" x2="253.50" y2="401.40" stroke="#284c8c" stroke-width="1.3" />
<rect x="247.40" y="399.70" width="3.40" height="3.40" fill="#284c8c"/>
<text x="256.40" y="404.10" font-size="8.0" text-anchor="start" fill="#1a1a1a" textLength="30.00" lengthAdjust="spacingAndGlyphs" stroke="#1a1a1a" stroke-width="0.22" >MI-3454</text>
<line x1="244.70" y1="412.70" x2="253.50" y2="412.70" stroke="#b0102e" stroke-width="1.3" />
<polygon points="246.80,411.06 251.40,411.06 249.10,415.20" fill="#b0102e"/>
<text x="256.40" y="415.40" font-size="8.0" text-anchor="start" fill="#1a1a1a" textLength="30.00" lengthAdjust="spacingAndGlyphs" stroke="#1a1a1a" stroke-width="0.22" >MI-3454</text>
<text x="257.30" y="425.10" font-size="8.0" text-anchor="start" fill="#1a1a1a" textLength="22.00" lengthAdjust="spacingAndGlyphs" stroke="#1a1a1a" stroke-width="0.22" >+ Gilt.</text>
<line x1="349.30" y1="386.70" x2="349.30" y2="401.00" stroke="#444" stroke-width="1.0" />
<line x1="347.60" y1="447.20" x2="347.60" y2="468.80" stroke="#444" stroke-width="1.0" />
<line x1="356.40" y1="386.70" x2="356.40" y2="446.80" stroke="#444" stroke-width="1.0" />
<line x1="363.10" y1="386.70" x2="363.10" y2="468.80" stroke="#444" stroke-width="1.0" />
<text x="347.90" y="393.60" font-size="7.8" text-anchor="middle" fill="#1a1a1a" textLength="8.20" lengthAdjust="spacingAndGlyphs" transform="rotate(-90 347.90 393.60)" stroke="#1a1a1a" stroke-width="0.22" >ns</text>
<circle cx="343.80" cy="458.50" r="1.0" fill="#111" />
<circle cx="343.80" cy="462.10" r="1.0" fill="#111" />
<circle cx="352.30" cy="412.70" r="1.0" fill="#111" />
<circle cx="352.30" cy="416.00" r="1.0" fill="#111" />
<circle cx="352.30" cy="419.30" r="1.0" fill="#111" />
<circle cx="352.30" cy="422.60" r="1.0" fill="#111" />
<circle cx="359.20" cy="420.40" r="1.0" fill="#111" />
<circle cx="359.20" cy="423.70" r="1.0" fill="#111" />
<circle cx="359.20" cy="427.00" r="1.0" fill="#111" />
<circle cx="359.20" cy="430.30" r="1.0" fill="#111" />
<text x="378.30" y="354.70" font-size="15" text-anchor="start" font-weight="bold" fill="#000" >J</text>
<text x="409.70" y="362.20" font-size="9.6" text-anchor="start" fill="#1a1a1a" textLength="80.70" lengthAdjust="spacingAndGlyphs" stroke="#1a1a1a" stroke-width="0.16" >NPM1-5577 (PDX)</text>
<line x1="410.20" y1="386.50" x2="410.20" y2="470.50" stroke="#1a1a1a" stroke-width="1.5" />
<line x1="406.60" y1="389.50" x2="410.20" y2="389.50" stroke="#1a1a1a" stroke-width="1.0" />
<text x="404.10" y="392.35" font-size="8.8" text-anchor="end" fill="#1a1a1a" stroke="#1a1a1a" stroke-width="0.22" >80</text>
<line x1="406.60" y1="409.50" x2="410.20" y2="409.50" stroke="#1a1a1a" stroke-width="1.0" />
<text x="404.10" y="412.35" font-size="8.8" text-anchor="end" fill="#1a1a1a" stroke="#1a1a1a" stroke-width="0.22" >60</text>
<line x1="406.60" y1="429.50" x2="410.20" y2="429.50" stroke="#1a1a1a" stroke-width="1.0" />
<text x="404.10" y="432.35" font-size="8.8" text-anchor="end" fill="#1a1a1a" stroke="#1a1a1a" stroke-width="0.22" >40</text>
<line x1="406.60" y1="449.50" x2="410.20" y2="449.50" stroke="#1a1a1a" stroke-width="1.0" />
<text x="404.10" y="452.35" font-size="8.8" text-anchor="end" fill="#1a1a1a" stroke="#1a1a1a" stroke-width="0.22" >20</text>
<line x1="406.60" y1="469.50" x2="410.20" y2="469.50" stroke="#1a1a1a" stroke-width="1.0" />
<text x="404.10" y="472.35" font-size="8.8" text-anchor="end" fill="#1a1a1a" stroke="#1a1a1a" stroke-width="0.22" >0</text>
<text x="390.00" y="427.50" font-size="10.0" text-anchor="middle" fill="#1a1a1a" textLength="45.00" lengthAdjust="spacingAndGlyphs" transform="rotate(-90 390.00 427.50)" stroke="#1a1a1a" stroke-width="0.16" >hCD45+ (%)</text>
<line x1="410.00" y1="469.80" x2="489.80" y2="469.80" stroke="#1a1a1a" stroke-width="1.5" />
<line x1="422.30" y1="469.80" x2="422.30" y2="472.30" stroke="#1a1a1a" stroke-width="1.0" />
<line x1="440.50" y1="469.80" x2="440.50" y2="472.30" stroke="#1a1a1a" stroke-width="1.0" />
<line x1="459.50" y1="469.80" x2="459.50" y2="472.30" stroke="#1a1a1a" stroke-width="1.0" />
<line x1="477.30" y1="469.80" x2="477.30" y2="472.30" stroke="#1a1a1a" stroke-width="1.0" />
<line x1="422.30" y1="414.60" x2="422.30" y2="441.40" stroke="#4b1c70" stroke-width="0.9" />
<line x1="420.50" y1="414.60" x2="424.10" y2="414.60" stroke="#4b1c70" stroke-width="0.9" />
<line x1="420.50" y1="441.40" x2="424.10" y2="441.40" stroke="#4b1c70" stroke-width="0.9" />
<line x1="416.20" y1="428.20" x2="428.40" y2="428.20" stroke="#111" stroke-width="1.2" />
<circle cx="422.40" cy="406.40" r="1.8" fill="#4b1c70" />
<circle cx="425.50" cy="417.60" r="1.8" fill="#4b1c70" />
<circle cx="419.20" cy="421.40" r="1.8" fill="#4b1c70" />
<circle cx="422.40" cy="432.40" r="1.8" fill="#4b1c70" />
<circle cx="422.40" cy="437.30" r="1.8" fill="#4b1c70" />
<circle cx="418.60" cy="440.40" r="1.8" fill="#4b1c70" />
<circle cx="425.50" cy="442.30" r="1.8" fill="#4b1c70" />
<rect x="435.90" y="449.40" width="3.20" height="3.20" fill="#284c8c"/>
<rect x="442.20" y="449.40" width="3.20" height="3.20" fill="#284c8c"/>
<rect x="438.90" y="454.70" width="3.20" height="3.20" fill="#284c8c"/>
<rect x="435.90" y="457.90" width="3.20" height="3.20" fill="#284c8c"/>
<rect x="442.20" y="458.90" width="3.20" height="3.20" fill="#284c8c"/>
<rect x="435.90" y="462.40" width="3.20" height="3.20" fill="#284c8c"/>
<rect x="442.20" y="462.90" width="3.20" height="3.20" fill="#284c8c"/>
<rect x="442.20" y="466.70" width="3.20" height="3.20" fill="#284c8c"/>
<rect x="438.40" y="460.40" width="3.20" height="3.20" fill="#284c8c"/>
<line x1="440.50" y1="453.50" x2="440.50" y2="463.50" stroke="#284c8c" stroke-width="0.9" />
<line x1="438.90" y1="453.50" x2="442.10" y2="453.50" stroke="#284c8c" stroke-width="0.9" />
<line x1="438.90" y1="463.50" x2="442.10" y2="463.50" stroke="#284c8c" stroke-width="0.9" />
<line x1="434.80" y1="458.50" x2="446.50" y2="458.50" stroke="#111" stroke-width="1.2" />
<text x="441.00" y="448.50" font-size="7.0" text-anchor="middle" fill="#1a1a1a" textLength="14.20" lengthAdjust="spacingAndGlyphs" stroke="#1a1a1a" stroke-width="0.22" >****</text>
<line x1="459.50" y1="424.50" x2="459.50" y2="443.30" stroke="#62ad3a" stroke-width="1.0" />
<line x1="456.50" y1="424.50" x2="462.50" y2="424.50" stroke="#62ad3a" stroke-width="1.0" />
<line x1="456.50" y1="443.30" x2="462.50" y2="443.30" stroke="#62ad3a" stroke-width="1.0" />
<polygon points="457.60,420.72 461.40,420.72 459.50,417.30" fill="#62ad3a"/>
<polygon points="457.60,429.52 461.40,429.52 459.50,426.10" fill="#62ad3a"/>
<polygon points="452.90,434.82 456.70,434.82 454.80,431.40" fill="#62ad3a"/>
<polygon points="461.70,434.82 465.50,434.82 463.60,431.40" fill="#62ad3a"/>
<polygon points="457.60,436.52 461.40,436.52 459.50,433.10" fill="#62ad3a"/>
<polygon points="457.60,443.92 461.40,443.92 459.50,440.50" fill="#62ad3a"/>
<polygon points="457.60,450.52 461.40,450.52 459.50,447.10" fill="#62ad3a"/>
<line x1="453.00" y1="434.10" x2="465.70" y2="434.10" stroke="#111" stroke-width="1.3" />
<text x="459.50" y="413.50" font-size="7.6" text-anchor="middle" fill="#1a1a1a" textLength="7.80" lengthAdjust="spacingAndGlyphs" stroke="#1a1a1a" stroke-width="0.22" >ns</text>
<polygon points="472.00,467.40 475.00,467.40 473.50,470.10" fill="#b0102e"/>
<polygon points="474.00,467.40 477.00,467.40 475.50,470.10" fill="#b0102e"/>
<polygon points="476.00,467.40 479.00,467.40 477.50,470.10" fill="#b0102e"/>
<polygon points="478.00,467.40 481.00,467.40 479.50,470.10" fill="#b0102e"/>
<polygon points="480.00,467.40 483.00,467.40 481.50,470.10" fill="#b0102e"/>
<line x1="472.50" y1="469.20" x2="482.50" y2="469.20" stroke="#b0102e" stroke-width="1.6" />
<text x="477.30" y="466.00" font-size="7.0" text-anchor="middle" fill="#1a1a1a" textLength="14.20" lengthAdjust="spacingAndGlyphs" stroke="#1a1a1a" stroke-width="0.22" >****</text>
<text x="425.00" y="481.60" font-size="7.9" text-anchor="end" fill="#1a1a1a" textLength="24.50" lengthAdjust="spacingAndGlyphs" transform="rotate(-45 425.00 481.60)" stroke="#1a1a1a" stroke-width="0.22" >Vehicle</text>
<text x="443.20" y="481.60" font-size="7.9" text-anchor="end" fill="#1a1a1a" textLength="29.00" lengthAdjust="spacingAndGlyphs" transform="rotate(-45 443.20 481.60)" stroke="#1a1a1a" stroke-width="0.22" >MI-3454</text>
<text x="462.00" y="482.00" font-size="7.9" text-anchor="end" fill="#1a1a1a" textLength="14.50" lengthAdjust="spacingAndGlyphs" transform="rotate(-45 462.00 482.00)" stroke="#1a1a1a" stroke-width="0.22" >Gilt.</text>
<text x="480.00" y="481.40" font-size="7.9" text-anchor="end" fill="#1a1a1a" textLength="29.00" lengthAdjust="spacingAndGlyphs" transform="rotate(-45 480.00 481.40)" stroke="#1a1a1a" stroke-width="0.22" >MI-3454</text>
<text x="487.60" y="489.40" font-size="7.9" text-anchor="end" fill="#1a1a1a" textLength="20.00" lengthAdjust="spacingAndGlyphs" transform="rotate(-45 487.60 489.40)" stroke="#1a1a1a" stroke-width="0.22" >+ Gilt.</text>
</svg></body></html>
